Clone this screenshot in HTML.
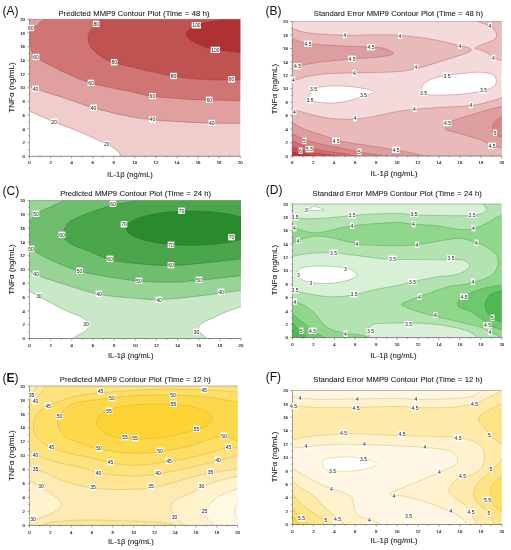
<!DOCTYPE html>
<html><head><meta charset="utf-8"><title>MMP9 Contour Plots</title>
<style>html,body{margin:0;padding:0;background:#fff;width:511px;height:550px;overflow:hidden;font-family:"Liberation Sans",sans-serif;}svg{display:block;will-change:transform;}</style>
</head><body>
<svg width="511" height="550" viewBox="0 0 511 550">
<rect width="511" height="550" fill="#fff"/>
<defs>
<clipPath id="clipA"><rect x="29.5" y="19.3" width="210.7" height="137.0"/></clipPath>
<clipPath id="clipB"><rect x="292.3" y="21.6" width="209.5" height="134.4"/></clipPath>
<clipPath id="clipC"><rect x="29.5" y="200.5" width="211.5" height="138.0"/></clipPath>
<clipPath id="clipD"><rect x="292.5" y="204.0" width="209.3" height="133.6"/></clipPath>
<clipPath id="clipE"><rect x="29.5" y="386.0" width="208.1" height="139.4"/></clipPath>
<clipPath id="clipF"><rect x="292.5" y="390.5" width="209.3" height="134.0"/></clipPath>
</defs>
<g clip-path="url(#clipA)">
<rect x="29.5" y="19.3" width="210.7" height="137.0" fill="#ffffff"/>
<path d="M29.5 111.3 C33.6 113.1 46.0 118.6 54.0 121.9 C62.0 125.2 69.0 127.4 77.8 131.1 C86.6 134.8 100.2 141.0 106.8 144.3 C113.4 147.6 114.8 148.8 117.3 150.9 C119.8 153.0 120.8 156.0 121.5 157.0 L250.0 157.0 L250.0 10.0 L20.0 10.0 L20.0 111.3 Z" fill="#eecdcb"/>
<path d="M29.5 85.7 C30.5 86.2 29.8 86.8 35.6 88.9 C41.5 91.0 54.9 94.9 64.6 98.1 C74.3 101.3 82.7 104.8 93.6 107.9 C104.5 111.0 120.2 114.6 130.0 116.6 C139.8 118.6 143.6 118.8 152.4 119.7 C161.2 120.6 172.9 121.3 182.8 121.9 C192.7 122.5 202.1 123.0 211.8 123.2 C221.5 123.4 236.1 123.3 241.0 123.3 L250.0 123.3 L250.0 10.0 L20.0 10.0 L20.0 85.7 Z" fill="#e0a0a0"/>
<path d="M47.0 18.5 C46.0 19.0 42.8 20.3 41.1 21.5 C39.4 22.7 38.4 24.5 36.8 25.8 C35.2 27.1 32.6 27.5 31.5 29.5 C30.4 31.5 29.9 34.5 29.9 38.0 C29.9 41.5 30.5 47.3 31.5 50.5 C32.5 53.7 33.6 55.0 35.8 57.0 C37.9 59.0 41.2 60.6 44.4 62.4 C47.6 64.2 51.7 66.0 55.1 67.7 C58.5 69.4 58.6 70.0 64.6 72.5 C70.6 75.0 80.1 79.8 91.0 83.0 C101.9 86.2 119.8 89.3 130.0 91.5 C140.2 93.7 143.6 95.1 152.4 96.3 C161.2 97.5 173.3 98.3 182.8 98.9 C192.3 99.5 199.5 99.7 209.2 100.0 C218.9 100.3 235.7 100.7 241.0 100.8 L250.0 100.8 L250.0 10.0 Z" fill="#d07573"/>
<path d="M100.5 18.5 C99.8 19.4 98.0 21.9 96.2 24.2 C94.4 26.4 90.8 29.4 89.5 32.0 C88.2 34.6 87.8 37.1 88.3 40.0 C88.8 42.9 89.6 46.2 92.3 49.3 C95.0 52.4 100.5 56.3 104.2 58.5 C107.9 60.7 109.1 61.0 114.2 62.5 C119.3 64.0 125.1 65.5 135.0 67.8 C144.9 70.1 162.0 74.2 173.5 76.2 C185.0 78.2 194.2 79.0 203.9 79.6 C213.6 80.2 225.4 79.8 231.6 79.8 C237.8 79.8 239.4 79.8 241.0 79.8 L250.0 79.8 L250.0 10.0 Z" fill="#be5352"/>
<path d="M228.0 18.5 C225.3 19.0 217.2 20.4 212.0 21.5 C206.8 22.6 200.5 23.8 196.5 25.3 C192.5 26.8 189.7 29.1 188.0 30.5 C186.3 31.9 186.2 32.5 186.5 34.0 C186.8 35.5 187.8 37.7 190.0 39.5 C192.2 41.3 195.9 43.4 200.0 45.0 C204.1 46.6 207.6 48.0 214.4 49.3 C221.2 50.6 236.6 52.1 241.0 52.7 L250.0 52.7 L250.0 10.0 Z" fill="#af3131"/>
<path d="M29.5 111.3 C33.6 113.1 46.0 118.6 54.0 121.9 C62.0 125.2 69.0 127.4 77.8 131.1 C86.6 134.8 100.2 141.0 106.8 144.3 C113.4 147.6 114.8 148.8 117.3 150.9 C119.8 153.0 120.8 156.0 121.5 157.0" fill="none" stroke="#8e1e22" stroke-opacity="0.55" stroke-width="0.55"/>
<path d="M29.5 85.7 C30.5 86.2 29.8 86.8 35.6 88.9 C41.5 91.0 54.9 94.9 64.6 98.1 C74.3 101.3 82.7 104.8 93.6 107.9 C104.5 111.0 120.2 114.6 130.0 116.6 C139.8 118.6 143.6 118.8 152.4 119.7 C161.2 120.6 172.9 121.3 182.8 121.9 C192.7 122.5 202.1 123.0 211.8 123.2 C221.5 123.4 236.1 123.3 241.0 123.3" fill="none" stroke="#8e1e22" stroke-opacity="0.55" stroke-width="0.55"/>
<path d="M47.0 18.5 C46.0 19.0 42.8 20.3 41.1 21.5 C39.4 22.7 38.4 24.5 36.8 25.8 C35.2 27.1 32.6 27.5 31.5 29.5 C30.4 31.5 29.9 34.5 29.9 38.0 C29.9 41.5 30.5 47.3 31.5 50.5 C32.5 53.7 33.6 55.0 35.8 57.0 C37.9 59.0 41.2 60.6 44.4 62.4 C47.6 64.2 51.7 66.0 55.1 67.7 C58.5 69.4 58.6 70.0 64.6 72.5 C70.6 75.0 80.1 79.8 91.0 83.0 C101.9 86.2 119.8 89.3 130.0 91.5 C140.2 93.7 143.6 95.1 152.4 96.3 C161.2 97.5 173.3 98.3 182.8 98.9 C192.3 99.5 199.5 99.7 209.2 100.0 C218.9 100.3 235.7 100.7 241.0 100.8" fill="none" stroke="#8e1e22" stroke-opacity="0.55" stroke-width="0.55"/>
<path d="M100.5 18.5 C99.8 19.4 98.0 21.9 96.2 24.2 C94.4 26.4 90.8 29.4 89.5 32.0 C88.2 34.6 87.8 37.1 88.3 40.0 C88.8 42.9 89.6 46.2 92.3 49.3 C95.0 52.4 100.5 56.3 104.2 58.5 C107.9 60.7 109.1 61.0 114.2 62.5 C119.3 64.0 125.1 65.5 135.0 67.8 C144.9 70.1 162.0 74.2 173.5 76.2 C185.0 78.2 194.2 79.0 203.9 79.6 C213.6 80.2 225.4 79.8 231.6 79.8 C237.8 79.8 239.4 79.8 241.0 79.8" fill="none" stroke="#8e1e22" stroke-opacity="0.55" stroke-width="0.55"/>
<path d="M228.0 18.5 C225.3 19.0 217.2 20.4 212.0 21.5 C206.8 22.6 200.5 23.8 196.5 25.3 C192.5 26.8 189.7 29.1 188.0 30.5 C186.3 31.9 186.2 32.5 186.5 34.0 C186.8 35.5 187.8 37.7 190.0 39.5 C192.2 41.3 195.9 43.4 200.0 45.0 C204.1 46.6 207.6 48.0 214.4 49.3 C221.2 50.6 236.6 52.1 241.0 52.7" fill="none" stroke="#8e1e22" stroke-opacity="0.55" stroke-width="0.55"/>
</g>
<line x1="29.5" y1="19.3" x2="240.2" y2="19.3" stroke="#8a8a8a" stroke-width="0.6"/>
<line x1="29.5" y1="19.0" x2="29.5" y2="156.7" stroke="#666" stroke-width="0.6"/>
<line x1="29.1" y1="156.3" x2="240.5" y2="156.3" stroke="#666" stroke-width="0.75"/>
<line x1="29.5" y1="156.3" x2="29.5" y2="158.5" stroke="#555" stroke-width="0.5"/>
<line x1="29.5" y1="156.3" x2="27.3" y2="156.3" stroke="#555" stroke-width="0.5"/>
<text x="29.5" y="164.4" font-size="4.3" text-anchor="middle" fill="#1a1a1a" stroke="#1a1a1a" stroke-width="0.12" font-family="Liberation Sans, sans-serif">0</text>
<text x="25.0" y="157.9" font-size="4.3" text-anchor="end" fill="#1a1a1a" stroke="#1a1a1a" stroke-width="0.12" font-family="Liberation Sans, sans-serif">0</text>
<line x1="40.0" y1="156.3" x2="40.0" y2="157.6" stroke="#555" stroke-width="0.5"/>
<line x1="29.5" y1="149.5" x2="28.2" y2="149.5" stroke="#555" stroke-width="0.5"/>
<line x1="50.6" y1="156.3" x2="50.6" y2="158.5" stroke="#555" stroke-width="0.5"/>
<line x1="29.5" y1="142.6" x2="27.3" y2="142.6" stroke="#555" stroke-width="0.5"/>
<text x="50.6" y="164.4" font-size="4.3" text-anchor="middle" fill="#1a1a1a" stroke="#1a1a1a" stroke-width="0.12" font-family="Liberation Sans, sans-serif">2</text>
<text x="25.0" y="144.2" font-size="4.3" text-anchor="end" fill="#1a1a1a" stroke="#1a1a1a" stroke-width="0.12" font-family="Liberation Sans, sans-serif">2</text>
<line x1="61.1" y1="156.3" x2="61.1" y2="157.6" stroke="#555" stroke-width="0.5"/>
<line x1="29.5" y1="135.8" x2="28.2" y2="135.8" stroke="#555" stroke-width="0.5"/>
<line x1="71.6" y1="156.3" x2="71.6" y2="158.5" stroke="#555" stroke-width="0.5"/>
<line x1="29.5" y1="128.9" x2="27.3" y2="128.9" stroke="#555" stroke-width="0.5"/>
<text x="71.6" y="164.4" font-size="4.3" text-anchor="middle" fill="#1a1a1a" stroke="#1a1a1a" stroke-width="0.12" font-family="Liberation Sans, sans-serif">4</text>
<text x="25.0" y="130.5" font-size="4.3" text-anchor="end" fill="#1a1a1a" stroke="#1a1a1a" stroke-width="0.12" font-family="Liberation Sans, sans-serif">4</text>
<line x1="82.2" y1="156.3" x2="82.2" y2="157.6" stroke="#555" stroke-width="0.5"/>
<line x1="29.5" y1="122.1" x2="28.2" y2="122.1" stroke="#555" stroke-width="0.5"/>
<line x1="92.7" y1="156.3" x2="92.7" y2="158.5" stroke="#555" stroke-width="0.5"/>
<line x1="29.5" y1="115.2" x2="27.3" y2="115.2" stroke="#555" stroke-width="0.5"/>
<text x="92.7" y="164.4" font-size="4.3" text-anchor="middle" fill="#1a1a1a" stroke="#1a1a1a" stroke-width="0.12" font-family="Liberation Sans, sans-serif">6</text>
<text x="25.0" y="116.8" font-size="4.3" text-anchor="end" fill="#1a1a1a" stroke="#1a1a1a" stroke-width="0.12" font-family="Liberation Sans, sans-serif">6</text>
<line x1="103.2" y1="156.3" x2="103.2" y2="157.6" stroke="#555" stroke-width="0.5"/>
<line x1="29.5" y1="108.4" x2="28.2" y2="108.4" stroke="#555" stroke-width="0.5"/>
<line x1="113.8" y1="156.3" x2="113.8" y2="158.5" stroke="#555" stroke-width="0.5"/>
<line x1="29.5" y1="101.5" x2="27.3" y2="101.5" stroke="#555" stroke-width="0.5"/>
<text x="113.8" y="164.4" font-size="4.3" text-anchor="middle" fill="#1a1a1a" stroke="#1a1a1a" stroke-width="0.12" font-family="Liberation Sans, sans-serif">8</text>
<text x="25.0" y="103.1" font-size="4.3" text-anchor="end" fill="#1a1a1a" stroke="#1a1a1a" stroke-width="0.12" font-family="Liberation Sans, sans-serif">8</text>
<line x1="124.3" y1="156.3" x2="124.3" y2="157.6" stroke="#555" stroke-width="0.5"/>
<line x1="29.5" y1="94.7" x2="28.2" y2="94.7" stroke="#555" stroke-width="0.5"/>
<line x1="134.8" y1="156.3" x2="134.8" y2="158.5" stroke="#555" stroke-width="0.5"/>
<line x1="29.5" y1="87.8" x2="27.3" y2="87.8" stroke="#555" stroke-width="0.5"/>
<text x="134.8" y="164.4" font-size="4.3" text-anchor="middle" fill="#1a1a1a" stroke="#1a1a1a" stroke-width="0.12" font-family="Liberation Sans, sans-serif">10</text>
<text x="25.0" y="89.4" font-size="4.3" text-anchor="end" fill="#1a1a1a" stroke="#1a1a1a" stroke-width="0.12" font-family="Liberation Sans, sans-serif">10</text>
<line x1="145.4" y1="156.3" x2="145.4" y2="157.6" stroke="#555" stroke-width="0.5"/>
<line x1="29.5" y1="81.0" x2="28.2" y2="81.0" stroke="#555" stroke-width="0.5"/>
<line x1="155.9" y1="156.3" x2="155.9" y2="158.5" stroke="#555" stroke-width="0.5"/>
<line x1="29.5" y1="74.1" x2="27.3" y2="74.1" stroke="#555" stroke-width="0.5"/>
<text x="155.9" y="164.4" font-size="4.3" text-anchor="middle" fill="#1a1a1a" stroke="#1a1a1a" stroke-width="0.12" font-family="Liberation Sans, sans-serif">12</text>
<text x="25.0" y="75.7" font-size="4.3" text-anchor="end" fill="#1a1a1a" stroke="#1a1a1a" stroke-width="0.12" font-family="Liberation Sans, sans-serif">12</text>
<line x1="166.5" y1="156.3" x2="166.5" y2="157.6" stroke="#555" stroke-width="0.5"/>
<line x1="29.5" y1="67.3" x2="28.2" y2="67.3" stroke="#555" stroke-width="0.5"/>
<line x1="177.0" y1="156.3" x2="177.0" y2="158.5" stroke="#555" stroke-width="0.5"/>
<line x1="29.5" y1="60.4" x2="27.3" y2="60.4" stroke="#555" stroke-width="0.5"/>
<text x="177.0" y="164.4" font-size="4.3" text-anchor="middle" fill="#1a1a1a" stroke="#1a1a1a" stroke-width="0.12" font-family="Liberation Sans, sans-serif">14</text>
<text x="25.0" y="62.0" font-size="4.3" text-anchor="end" fill="#1a1a1a" stroke="#1a1a1a" stroke-width="0.12" font-family="Liberation Sans, sans-serif">14</text>
<line x1="187.5" y1="156.3" x2="187.5" y2="157.6" stroke="#555" stroke-width="0.5"/>
<line x1="29.5" y1="53.6" x2="28.2" y2="53.6" stroke="#555" stroke-width="0.5"/>
<line x1="198.1" y1="156.3" x2="198.1" y2="158.5" stroke="#555" stroke-width="0.5"/>
<line x1="29.5" y1="46.7" x2="27.3" y2="46.7" stroke="#555" stroke-width="0.5"/>
<text x="198.1" y="164.4" font-size="4.3" text-anchor="middle" fill="#1a1a1a" stroke="#1a1a1a" stroke-width="0.12" font-family="Liberation Sans, sans-serif">16</text>
<text x="25.0" y="48.3" font-size="4.3" text-anchor="end" fill="#1a1a1a" stroke="#1a1a1a" stroke-width="0.12" font-family="Liberation Sans, sans-serif">16</text>
<line x1="208.6" y1="156.3" x2="208.6" y2="157.6" stroke="#555" stroke-width="0.5"/>
<line x1="29.5" y1="39.9" x2="28.2" y2="39.9" stroke="#555" stroke-width="0.5"/>
<line x1="219.1" y1="156.3" x2="219.1" y2="158.5" stroke="#555" stroke-width="0.5"/>
<line x1="29.5" y1="33.0" x2="27.3" y2="33.0" stroke="#555" stroke-width="0.5"/>
<text x="219.1" y="164.4" font-size="4.3" text-anchor="middle" fill="#1a1a1a" stroke="#1a1a1a" stroke-width="0.12" font-family="Liberation Sans, sans-serif">18</text>
<text x="25.0" y="34.6" font-size="4.3" text-anchor="end" fill="#1a1a1a" stroke="#1a1a1a" stroke-width="0.12" font-family="Liberation Sans, sans-serif">18</text>
<line x1="229.7" y1="156.3" x2="229.7" y2="157.6" stroke="#555" stroke-width="0.5"/>
<line x1="29.5" y1="26.2" x2="28.2" y2="26.2" stroke="#555" stroke-width="0.5"/>
<line x1="240.2" y1="156.3" x2="240.2" y2="158.5" stroke="#555" stroke-width="0.5"/>
<line x1="29.5" y1="19.3" x2="27.3" y2="19.3" stroke="#555" stroke-width="0.5"/>
<text x="240.2" y="164.4" font-size="4.3" text-anchor="middle" fill="#1a1a1a" stroke="#1a1a1a" stroke-width="0.12" font-family="Liberation Sans, sans-serif">20</text>
<text x="25.0" y="20.9" font-size="4.3" text-anchor="end" fill="#1a1a1a" stroke="#1a1a1a" stroke-width="0.12" font-family="Liberation Sans, sans-serif">20</text>
<rect x="27.5" y="24.8" width="6.6" height="6.3" fill="#fff"/>
<text x="30.8" y="29.8" font-size="5" text-anchor="middle" fill="#111" font-family="Liberation Sans, sans-serif">60</text>
<rect x="92.9" y="20.8" width="6.6" height="6.3" fill="#fff"/>
<text x="96.2" y="25.8" font-size="5" text-anchor="middle" fill="#111" font-family="Liberation Sans, sans-serif">80</text>
<rect x="32.8" y="53.8" width="6.6" height="6.3" fill="#fff"/>
<text x="36.1" y="58.8" font-size="5" text-anchor="middle" fill="#111" font-family="Liberation Sans, sans-serif">60</text>
<rect x="110.9" y="59.1" width="6.6" height="6.3" fill="#fff"/>
<text x="114.2" y="64.0" font-size="5" text-anchor="middle" fill="#111" font-family="Liberation Sans, sans-serif">80</text>
<rect x="87.7" y="79.7" width="6.6" height="6.3" fill="#fff"/>
<text x="91.0" y="84.6" font-size="5" text-anchor="middle" fill="#111" font-family="Liberation Sans, sans-serif">60</text>
<rect x="32.3" y="85.5" width="6.6" height="6.3" fill="#fff"/>
<text x="35.6" y="90.5" font-size="5" text-anchor="middle" fill="#111" font-family="Liberation Sans, sans-serif">40</text>
<rect x="90.3" y="104.5" width="6.6" height="6.3" fill="#fff"/>
<text x="93.6" y="109.5" font-size="5" text-anchor="middle" fill="#111" font-family="Liberation Sans, sans-serif">40</text>
<rect x="50.7" y="118.5" width="6.6" height="6.3" fill="#fff"/>
<text x="54.0" y="123.5" font-size="5" text-anchor="middle" fill="#111" font-family="Liberation Sans, sans-serif">20</text>
<rect x="103.5" y="140.9" width="6.6" height="6.3" fill="#fff"/>
<text x="106.8" y="145.9" font-size="5" text-anchor="middle" fill="#111" font-family="Liberation Sans, sans-serif">20</text>
<rect x="191.7" y="22.2" width="9.3" height="6.3" fill="#fff"/>
<text x="196.4" y="27.2" font-size="5" text-anchor="middle" fill="#111" font-family="Liberation Sans, sans-serif">100</text>
<rect x="210.7" y="46.7" width="9.3" height="6.3" fill="#fff"/>
<text x="215.4" y="51.6" font-size="5" text-anchor="middle" fill="#111" font-family="Liberation Sans, sans-serif">100</text>
<rect x="170.2" y="72.8" width="6.6" height="6.3" fill="#fff"/>
<text x="173.5" y="77.8" font-size="5" text-anchor="middle" fill="#111" font-family="Liberation Sans, sans-serif">80</text>
<rect x="228.3" y="76.2" width="6.6" height="6.3" fill="#fff"/>
<text x="231.6" y="81.1" font-size="5" text-anchor="middle" fill="#111" font-family="Liberation Sans, sans-serif">80</text>
<rect x="149.1" y="92.9" width="6.6" height="6.3" fill="#fff"/>
<text x="152.4" y="97.8" font-size="5" text-anchor="middle" fill="#111" font-family="Liberation Sans, sans-serif">60</text>
<rect x="205.9" y="96.6" width="6.6" height="6.3" fill="#fff"/>
<text x="209.2" y="101.5" font-size="5" text-anchor="middle" fill="#111" font-family="Liberation Sans, sans-serif">60</text>
<rect x="149.1" y="116.3" width="6.6" height="6.3" fill="#fff"/>
<text x="152.4" y="121.2" font-size="5" text-anchor="middle" fill="#111" font-family="Liberation Sans, sans-serif">40</text>
<rect x="208.5" y="119.8" width="6.6" height="6.3" fill="#fff"/>
<text x="211.8" y="124.8" font-size="5" text-anchor="middle" fill="#111" font-family="Liberation Sans, sans-serif">40</text>
<text x="58.5" y="15.8" font-size="7.66" word-spacing="0.3" fill="#1a1a1a" stroke="#1a1a1a" stroke-width="0.08" font-family="Liberation Sans, sans-serif">Predicted MMP9 Contour Plot (Time = 48 h)</text>
<text x="2.6" y="14.9" font-size="12" fill="#111" font-family="Liberation Sans, sans-serif">(A)</text>
<text x="107.1" y="177.1" font-size="7.9" fill="#1a1a1a" stroke="#1a1a1a" stroke-width="0.08" textLength="45.8" lengthAdjust="spacingAndGlyphs" font-family="Liberation Sans, sans-serif">IL-1β (ng/mL)</text>
<text x="0" y="0" font-size="8.1" fill="#1a1a1a" stroke="#1a1a1a" stroke-width="0.08" text-anchor="middle" transform="translate(13.8 87.5) rotate(-90)" font-family="Liberation Sans, sans-serif">TNFα (ng/mL)</text>
<g clip-path="url(#clipB)">
<rect x="292.3" y="21.6" width="209.5" height="134.4" fill="#f4dada"/>
<path d="M292.3 28.8 C295.2 29.5 300.7 31.9 309.5 33.0 C318.3 34.1 334.2 34.9 345.0 35.2 C355.8 35.5 364.9 34.8 374.0 34.8 C383.1 34.8 390.4 34.6 399.3 35.2 C408.2 35.8 417.2 36.8 427.3 38.5 C437.4 40.2 452.4 43.8 459.6 45.5 C466.8 47.2 469.1 47.6 470.5 48.8 C471.9 49.9 471.8 50.7 468.2 52.4 C464.6 54.1 457.4 56.2 448.8 58.9 C440.2 61.6 425.5 66.4 416.5 68.6 C407.5 70.8 405.3 71.1 395.0 71.8 C384.7 72.5 365.4 72.6 354.7 72.9 C344.0 73.2 338.5 73.0 331.0 73.5 C323.5 74.0 315.9 74.8 309.5 76.1 C303.1 77.3 295.2 80.2 292.3 81.0 L285.0 81.0 L285.0 28.8 Z" fill="#e8baba"/>
<path d="M476.8 18.0 C477.0 18.6 476.0 20.4 478.0 21.6 C480.0 22.9 485.8 23.9 488.6 25.5 C491.5 27.1 493.8 28.9 495.1 30.9 C496.4 32.9 497.1 35.6 496.2 37.4 C495.3 39.2 492.2 40.5 489.7 41.7 C487.2 43.0 483.6 43.8 481.1 44.9 C478.7 46.0 475.0 47.3 475.0 48.2 C475.0 49.1 478.7 49.1 481.1 50.2 C483.6 51.3 487.6 53.3 489.7 54.6 C491.8 55.9 491.8 56.7 494.0 57.8 C496.2 58.9 501.5 60.5 503.0 61.0 L510.0 61.0 L510.0 10.0 L476.8 10.0 Z" fill="#e8baba"/>
<path d="M292.3 108.7 C295.2 109.6 303.1 112.5 309.5 114.1 C315.9 115.7 323.5 117.6 331.0 118.4 C338.5 119.2 347.5 119.4 354.7 119.1 C361.9 118.8 367.4 117.5 374.1 116.3 C380.8 115.1 388.3 113.1 395.0 111.9 C401.7 110.8 407.2 110.1 414.4 109.4 C421.6 108.7 428.5 108.2 438.0 107.6 C447.5 106.9 462.7 106.5 471.4 105.5 C480.1 104.5 484.7 102.9 490.0 101.5 C495.3 100.1 500.8 97.8 503.0 97.0 L510.0 97.0 L510.0 165.0 L285.0 165.0 L285.0 108.7 Z" fill="#e8baba"/>
<path d="M292.3 38.5 C294.8 39.3 299.1 42.1 307.4 43.4 C315.6 44.6 331.2 45.4 341.8 46.0 C352.4 46.6 364.1 46.6 370.9 47.0 C377.7 47.4 378.9 47.1 382.7 48.1 C386.5 49.1 393.9 51.8 393.5 53.3 C393.1 54.8 387.4 55.9 380.6 56.8 C373.8 57.7 362.7 58.0 352.6 58.9 C342.6 59.8 329.6 60.9 320.3 62.1 C311.0 63.4 301.3 65.3 296.6 66.4 C291.9 67.5 293.0 68.2 292.3 68.6 L285.0 68.6 L285.0 38.5 Z" fill="#dc9e9e"/>
<path d="M292.3 122.3 C293.5 123.1 296.5 125.4 299.7 127.0 C302.9 128.6 307.6 130.3 311.5 131.7 C315.4 133.1 319.3 134.0 323.2 135.3 C327.1 136.6 330.9 138.2 335.0 139.4 C339.1 140.6 341.5 141.3 348.0 142.5 C354.5 143.7 366.3 145.2 374.1 146.4 C381.9 147.6 388.6 148.7 394.6 149.7 C400.6 150.7 404.4 151.3 410.0 152.5 C415.6 153.7 425.0 156.2 428.0 157.0 L285.0 165.0 L285.0 122.3 Z" fill="#dc9e9e"/>
<path d="M503.0 106.0 C502.6 106.1 504.1 105.6 500.5 106.6 C496.9 107.6 487.9 109.9 481.1 111.9 C474.3 113.9 465.2 116.5 459.6 118.4 C454.0 120.3 450.0 121.6 447.7 123.4 C445.4 125.2 443.6 127.5 445.6 129.2 C447.6 130.9 453.7 131.7 459.6 133.5 C465.5 135.3 475.7 138.0 481.1 140.0 C486.5 142.0 488.7 144.1 491.9 145.3 C495.1 146.6 498.6 147.1 500.5 147.5 C502.4 147.9 502.6 147.9 503.0 148.0 L510.0 148.0 L510.0 106.0 Z" fill="#dc9e9e"/>
<path d="M292.3 133.5 C293.5 134.2 296.5 136.2 299.7 137.6 C302.9 139.0 307.6 140.5 311.5 141.7 C315.4 142.9 319.3 143.7 323.2 144.6 C327.1 145.5 330.9 146.2 335.0 147.0 C339.1 147.8 344.0 148.4 348.0 149.3 C352.0 150.2 353.9 151.2 359.0 152.2 C364.1 153.1 373.9 154.2 378.4 155.0 C382.9 155.8 384.7 156.7 386.0 157.0 L285.0 165.0 L285.0 133.5 Z" fill="#d98688"/>
<path d="M503.0 116.5 C501.8 117.2 497.7 118.9 496.0 120.5 C494.3 122.1 493.5 124.2 493.0 126.0 C492.5 127.8 492.5 129.8 493.0 131.3 C493.5 132.8 494.3 134.0 496.0 135.0 C497.7 136.0 501.8 137.1 503.0 137.5 L510.0 137.5 L510.0 116.5 Z" fill="#d98688"/>
<path d="M292.3 140.5 C293.5 141.1 296.5 142.7 299.7 144.0 C302.9 145.3 307.6 147.1 311.5 148.2 C315.4 149.3 319.3 149.8 323.2 150.5 C327.1 151.2 330.9 151.7 335.0 152.3 C339.1 152.9 344.5 153.4 348.0 154.2 C351.5 155.0 354.7 156.5 356.0 157.0 L285.0 165.0 L285.0 140.5 Z" fill="#d66b6e"/>
<path d="M292.3 146.4 C293.5 146.9 296.5 148.3 299.7 149.3 C302.9 150.3 307.6 151.5 311.5 152.3 C315.4 153.1 319.3 153.5 323.2 154.0 C327.1 154.5 332.0 155.0 335.0 155.5 C338.0 156.0 340.0 156.8 341.0 157.0 L285.0 165.0 L285.0 146.4 Z" fill="#d24b50"/>
<path d="M292.3 151.7 C293.5 152.0 296.5 152.9 299.7 153.5 C302.9 154.1 308.3 154.6 311.5 155.2 C314.7 155.8 317.8 156.7 319.0 157.0 L285.0 165.0 L285.0 151.7 Z" fill="#cc2c33"/>
<path d="M309.4 94.9 C309.5 93.5 310.2 92.0 311.0 91.0 C311.8 90.0 312.0 89.3 314.1 88.6 C316.2 87.9 319.1 87.0 323.5 86.6 C327.9 86.1 334.7 85.7 340.7 85.9 C346.7 86.1 353.9 86.8 359.5 87.8 C365.1 88.8 373.8 90.3 374.3 91.7 C374.8 93.1 367.2 94.8 362.6 96.4 C358.1 98.0 352.2 100.0 347.0 101.1 C341.8 102.2 336.5 102.9 331.3 103.0 C326.1 103.1 319.1 102.5 315.6 101.9 C312.1 101.3 311.2 100.8 310.2 99.6 C309.2 98.4 309.3 96.3 309.4 94.9 Z" fill="#ffffff"/>
<path d="M422.1 86.4 C422.8 85.1 424.1 83.3 426.0 82.0 C427.9 80.7 430.3 79.4 433.7 78.3 C437.1 77.2 441.4 76.1 446.6 75.3 C451.8 74.5 459.4 73.7 465.0 73.2 C470.6 72.7 475.6 72.0 480.2 72.2 C484.8 72.4 489.8 73.1 492.5 74.5 C495.2 75.9 496.2 78.4 496.3 80.5 C496.4 82.6 495.7 85.2 493.0 87.0 C490.3 88.8 485.4 90.2 480.2 91.4 C475.0 92.6 467.6 93.4 462.0 94.0 C456.4 94.6 451.9 94.7 446.6 94.9 C441.3 95.1 433.9 95.1 430.0 95.0 C426.1 94.9 424.4 95.0 423.0 94.2 C421.6 93.4 421.9 91.3 421.8 90.0 C421.7 88.7 421.4 87.7 422.1 86.4 Z" fill="#ffffff"/>
<path d="M292.3 28.8 C295.2 29.5 300.7 31.9 309.5 33.0 C318.3 34.1 334.2 34.9 345.0 35.2 C355.8 35.5 364.9 34.8 374.0 34.8 C383.1 34.8 390.4 34.6 399.3 35.2 C408.2 35.8 417.2 36.8 427.3 38.5 C437.4 40.2 452.4 43.8 459.6 45.5 C466.8 47.2 469.1 47.6 470.5 48.8 C471.9 49.9 471.8 50.7 468.2 52.4 C464.6 54.1 457.4 56.2 448.8 58.9 C440.2 61.6 425.5 66.4 416.5 68.6 C407.5 70.8 405.3 71.1 395.0 71.8 C384.7 72.5 365.4 72.6 354.7 72.9 C344.0 73.2 338.5 73.0 331.0 73.5 C323.5 74.0 315.9 74.8 309.5 76.1 C303.1 77.3 295.2 80.2 292.3 81.0" fill="none" stroke="#9a3038" stroke-opacity="0.55" stroke-width="0.55"/>
<path d="M476.8 18.0 C477.0 18.6 476.0 20.4 478.0 21.6 C480.0 22.9 485.8 23.9 488.6 25.5 C491.5 27.1 493.8 28.9 495.1 30.9 C496.4 32.9 497.1 35.6 496.2 37.4 C495.3 39.2 492.2 40.5 489.7 41.7 C487.2 43.0 483.6 43.8 481.1 44.9 C478.7 46.0 475.0 47.3 475.0 48.2 C475.0 49.1 478.7 49.1 481.1 50.2 C483.6 51.3 487.6 53.3 489.7 54.6 C491.8 55.9 491.8 56.7 494.0 57.8 C496.2 58.9 501.5 60.5 503.0 61.0" fill="none" stroke="#9a3038" stroke-opacity="0.55" stroke-width="0.55"/>
<path d="M292.3 108.7 C295.2 109.6 303.1 112.5 309.5 114.1 C315.9 115.7 323.5 117.6 331.0 118.4 C338.5 119.2 347.5 119.4 354.7 119.1 C361.9 118.8 367.4 117.5 374.1 116.3 C380.8 115.1 388.3 113.1 395.0 111.9 C401.7 110.8 407.2 110.1 414.4 109.4 C421.6 108.7 428.5 108.2 438.0 107.6 C447.5 106.9 462.7 106.5 471.4 105.5 C480.1 104.5 484.7 102.9 490.0 101.5 C495.3 100.1 500.8 97.8 503.0 97.0" fill="none" stroke="#9a3038" stroke-opacity="0.55" stroke-width="0.55"/>
<path d="M292.3 38.5 C294.8 39.3 299.1 42.1 307.4 43.4 C315.6 44.6 331.2 45.4 341.8 46.0 C352.4 46.6 364.1 46.6 370.9 47.0 C377.7 47.4 378.9 47.1 382.7 48.1 C386.5 49.1 393.9 51.8 393.5 53.3 C393.1 54.8 387.4 55.9 380.6 56.8 C373.8 57.7 362.7 58.0 352.6 58.9 C342.6 59.8 329.6 60.9 320.3 62.1 C311.0 63.4 301.3 65.3 296.6 66.4 C291.9 67.5 293.0 68.2 292.3 68.6" fill="none" stroke="#9a3038" stroke-opacity="0.55" stroke-width="0.55"/>
<path d="M292.3 122.3 C293.5 123.1 296.5 125.4 299.7 127.0 C302.9 128.6 307.6 130.3 311.5 131.7 C315.4 133.1 319.3 134.0 323.2 135.3 C327.1 136.6 330.9 138.2 335.0 139.4 C339.1 140.6 341.5 141.3 348.0 142.5 C354.5 143.7 366.3 145.2 374.1 146.4 C381.9 147.6 388.6 148.7 394.6 149.7 C400.6 150.7 404.4 151.3 410.0 152.5 C415.6 153.7 425.0 156.2 428.0 157.0" fill="none" stroke="#9a3038" stroke-opacity="0.55" stroke-width="0.55"/>
<path d="M503.0 106.0 C502.6 106.1 504.1 105.6 500.5 106.6 C496.9 107.6 487.9 109.9 481.1 111.9 C474.3 113.9 465.2 116.5 459.6 118.4 C454.0 120.3 450.0 121.6 447.7 123.4 C445.4 125.2 443.6 127.5 445.6 129.2 C447.6 130.9 453.7 131.7 459.6 133.5 C465.5 135.3 475.7 138.0 481.1 140.0 C486.5 142.0 488.7 144.1 491.9 145.3 C495.1 146.6 498.6 147.1 500.5 147.5 C502.4 147.9 502.6 147.9 503.0 148.0" fill="none" stroke="#9a3038" stroke-opacity="0.55" stroke-width="0.55"/>
<path d="M292.3 133.5 C293.5 134.2 296.5 136.2 299.7 137.6 C302.9 139.0 307.6 140.5 311.5 141.7 C315.4 142.9 319.3 143.7 323.2 144.6 C327.1 145.5 330.9 146.2 335.0 147.0 C339.1 147.8 344.0 148.4 348.0 149.3 C352.0 150.2 353.9 151.2 359.0 152.2 C364.1 153.1 373.9 154.2 378.4 155.0 C382.9 155.8 384.7 156.7 386.0 157.0" fill="none" stroke="#9a3038" stroke-opacity="0.55" stroke-width="0.55"/>
<path d="M503.0 116.5 C501.8 117.2 497.7 118.9 496.0 120.5 C494.3 122.1 493.5 124.2 493.0 126.0 C492.5 127.8 492.5 129.8 493.0 131.3 C493.5 132.8 494.3 134.0 496.0 135.0 C497.7 136.0 501.8 137.1 503.0 137.5" fill="none" stroke="#9a3038" stroke-opacity="0.55" stroke-width="0.55"/>
<path d="M292.3 140.5 C293.5 141.1 296.5 142.7 299.7 144.0 C302.9 145.3 307.6 147.1 311.5 148.2 C315.4 149.3 319.3 149.8 323.2 150.5 C327.1 151.2 330.9 151.7 335.0 152.3 C339.1 152.9 344.5 153.4 348.0 154.2 C351.5 155.0 354.7 156.5 356.0 157.0" fill="none" stroke="#9a3038" stroke-opacity="0.55" stroke-width="0.55"/>
<path d="M292.3 146.4 C293.5 146.9 296.5 148.3 299.7 149.3 C302.9 150.3 307.6 151.5 311.5 152.3 C315.4 153.1 319.3 153.5 323.2 154.0 C327.1 154.5 332.0 155.0 335.0 155.5 C338.0 156.0 340.0 156.8 341.0 157.0" fill="none" stroke="#9a3038" stroke-opacity="0.55" stroke-width="0.55"/>
<path d="M292.3 151.7 C293.5 152.0 296.5 152.9 299.7 153.5 C302.9 154.1 308.3 154.6 311.5 155.2 C314.7 155.8 317.8 156.7 319.0 157.0" fill="none" stroke="#9a3038" stroke-opacity="0.55" stroke-width="0.55"/>
<path d="M309.4 94.9 C309.5 93.5 310.2 92.0 311.0 91.0 C311.8 90.0 312.0 89.3 314.1 88.6 C316.2 87.9 319.1 87.0 323.5 86.6 C327.9 86.1 334.7 85.7 340.7 85.9 C346.7 86.1 353.9 86.8 359.5 87.8 C365.1 88.8 373.8 90.3 374.3 91.7 C374.8 93.1 367.2 94.8 362.6 96.4 C358.1 98.0 352.2 100.0 347.0 101.1 C341.8 102.2 336.5 102.9 331.3 103.0 C326.1 103.1 319.1 102.5 315.6 101.9 C312.1 101.3 311.2 100.8 310.2 99.6 C309.2 98.4 309.3 96.3 309.4 94.9 Z" fill="none" stroke="#9a3038" stroke-opacity="0.55" stroke-width="0.55"/>
<path d="M422.1 86.4 C422.8 85.1 424.1 83.3 426.0 82.0 C427.9 80.7 430.3 79.4 433.7 78.3 C437.1 77.2 441.4 76.1 446.6 75.3 C451.8 74.5 459.4 73.7 465.0 73.2 C470.6 72.7 475.6 72.0 480.2 72.2 C484.8 72.4 489.8 73.1 492.5 74.5 C495.2 75.9 496.2 78.4 496.3 80.5 C496.4 82.6 495.7 85.2 493.0 87.0 C490.3 88.8 485.4 90.2 480.2 91.4 C475.0 92.6 467.6 93.4 462.0 94.0 C456.4 94.6 451.9 94.7 446.6 94.9 C441.3 95.1 433.9 95.1 430.0 95.0 C426.1 94.9 424.4 95.0 423.0 94.2 C421.6 93.4 421.9 91.3 421.8 90.0 C421.7 88.7 421.4 87.7 422.1 86.4 Z" fill="none" stroke="#9a3038" stroke-opacity="0.55" stroke-width="0.55"/>
</g>
<line x1="292.3" y1="21.6" x2="501.8" y2="21.6" stroke="#8a8a8a" stroke-width="0.6"/>
<line x1="292.3" y1="21.3" x2="292.3" y2="156.4" stroke="#666" stroke-width="0.6"/>
<line x1="291.9" y1="156.0" x2="502.1" y2="156.0" stroke="#666" stroke-width="0.75"/>
<line x1="292.3" y1="156.0" x2="292.3" y2="158.2" stroke="#555" stroke-width="0.5"/>
<line x1="292.3" y1="156.0" x2="290.1" y2="156.0" stroke="#555" stroke-width="0.5"/>
<text x="292.3" y="164.1" font-size="4.3" text-anchor="middle" fill="#1a1a1a" stroke="#1a1a1a" stroke-width="0.12" font-family="Liberation Sans, sans-serif">0</text>
<text x="287.8" y="157.6" font-size="4.3" text-anchor="end" fill="#1a1a1a" stroke="#1a1a1a" stroke-width="0.12" font-family="Liberation Sans, sans-serif">0</text>
<line x1="302.8" y1="156.0" x2="302.8" y2="157.3" stroke="#555" stroke-width="0.5"/>
<line x1="292.3" y1="149.3" x2="291.0" y2="149.3" stroke="#555" stroke-width="0.5"/>
<line x1="313.2" y1="156.0" x2="313.2" y2="158.2" stroke="#555" stroke-width="0.5"/>
<line x1="292.3" y1="142.6" x2="290.1" y2="142.6" stroke="#555" stroke-width="0.5"/>
<text x="313.2" y="164.1" font-size="4.3" text-anchor="middle" fill="#1a1a1a" stroke="#1a1a1a" stroke-width="0.12" font-family="Liberation Sans, sans-serif">2</text>
<text x="287.8" y="144.2" font-size="4.3" text-anchor="end" fill="#1a1a1a" stroke="#1a1a1a" stroke-width="0.12" font-family="Liberation Sans, sans-serif">2</text>
<line x1="323.7" y1="156.0" x2="323.7" y2="157.3" stroke="#555" stroke-width="0.5"/>
<line x1="292.3" y1="135.8" x2="291.0" y2="135.8" stroke="#555" stroke-width="0.5"/>
<line x1="334.2" y1="156.0" x2="334.2" y2="158.2" stroke="#555" stroke-width="0.5"/>
<line x1="292.3" y1="129.1" x2="290.1" y2="129.1" stroke="#555" stroke-width="0.5"/>
<text x="334.2" y="164.1" font-size="4.3" text-anchor="middle" fill="#1a1a1a" stroke="#1a1a1a" stroke-width="0.12" font-family="Liberation Sans, sans-serif">4</text>
<text x="287.8" y="130.7" font-size="4.3" text-anchor="end" fill="#1a1a1a" stroke="#1a1a1a" stroke-width="0.12" font-family="Liberation Sans, sans-serif">4</text>
<line x1="344.7" y1="156.0" x2="344.7" y2="157.3" stroke="#555" stroke-width="0.5"/>
<line x1="292.3" y1="122.4" x2="291.0" y2="122.4" stroke="#555" stroke-width="0.5"/>
<line x1="355.2" y1="156.0" x2="355.2" y2="158.2" stroke="#555" stroke-width="0.5"/>
<line x1="292.3" y1="115.7" x2="290.1" y2="115.7" stroke="#555" stroke-width="0.5"/>
<text x="355.2" y="164.1" font-size="4.3" text-anchor="middle" fill="#1a1a1a" stroke="#1a1a1a" stroke-width="0.12" font-family="Liberation Sans, sans-serif">6</text>
<text x="287.8" y="117.3" font-size="4.3" text-anchor="end" fill="#1a1a1a" stroke="#1a1a1a" stroke-width="0.12" font-family="Liberation Sans, sans-serif">6</text>
<line x1="365.6" y1="156.0" x2="365.6" y2="157.3" stroke="#555" stroke-width="0.5"/>
<line x1="292.3" y1="109.0" x2="291.0" y2="109.0" stroke="#555" stroke-width="0.5"/>
<line x1="376.1" y1="156.0" x2="376.1" y2="158.2" stroke="#555" stroke-width="0.5"/>
<line x1="292.3" y1="102.2" x2="290.1" y2="102.2" stroke="#555" stroke-width="0.5"/>
<text x="376.1" y="164.1" font-size="4.3" text-anchor="middle" fill="#1a1a1a" stroke="#1a1a1a" stroke-width="0.12" font-family="Liberation Sans, sans-serif">8</text>
<text x="287.8" y="103.8" font-size="4.3" text-anchor="end" fill="#1a1a1a" stroke="#1a1a1a" stroke-width="0.12" font-family="Liberation Sans, sans-serif">8</text>
<line x1="386.6" y1="156.0" x2="386.6" y2="157.3" stroke="#555" stroke-width="0.5"/>
<line x1="292.3" y1="95.5" x2="291.0" y2="95.5" stroke="#555" stroke-width="0.5"/>
<line x1="397.1" y1="156.0" x2="397.1" y2="158.2" stroke="#555" stroke-width="0.5"/>
<line x1="292.3" y1="88.8" x2="290.1" y2="88.8" stroke="#555" stroke-width="0.5"/>
<text x="397.1" y="164.1" font-size="4.3" text-anchor="middle" fill="#1a1a1a" stroke="#1a1a1a" stroke-width="0.12" font-family="Liberation Sans, sans-serif">10</text>
<text x="287.8" y="90.4" font-size="4.3" text-anchor="end" fill="#1a1a1a" stroke="#1a1a1a" stroke-width="0.12" font-family="Liberation Sans, sans-serif">10</text>
<line x1="407.5" y1="156.0" x2="407.5" y2="157.3" stroke="#555" stroke-width="0.5"/>
<line x1="292.3" y1="82.1" x2="291.0" y2="82.1" stroke="#555" stroke-width="0.5"/>
<line x1="418.0" y1="156.0" x2="418.0" y2="158.2" stroke="#555" stroke-width="0.5"/>
<line x1="292.3" y1="75.4" x2="290.1" y2="75.4" stroke="#555" stroke-width="0.5"/>
<text x="418.0" y="164.1" font-size="4.3" text-anchor="middle" fill="#1a1a1a" stroke="#1a1a1a" stroke-width="0.12" font-family="Liberation Sans, sans-serif">12</text>
<text x="287.8" y="77.0" font-size="4.3" text-anchor="end" fill="#1a1a1a" stroke="#1a1a1a" stroke-width="0.12" font-family="Liberation Sans, sans-serif">12</text>
<line x1="428.5" y1="156.0" x2="428.5" y2="157.3" stroke="#555" stroke-width="0.5"/>
<line x1="292.3" y1="68.6" x2="291.0" y2="68.6" stroke="#555" stroke-width="0.5"/>
<line x1="439.0" y1="156.0" x2="439.0" y2="158.2" stroke="#555" stroke-width="0.5"/>
<line x1="292.3" y1="61.9" x2="290.1" y2="61.9" stroke="#555" stroke-width="0.5"/>
<text x="439.0" y="164.1" font-size="4.3" text-anchor="middle" fill="#1a1a1a" stroke="#1a1a1a" stroke-width="0.12" font-family="Liberation Sans, sans-serif">14</text>
<text x="287.8" y="63.5" font-size="4.3" text-anchor="end" fill="#1a1a1a" stroke="#1a1a1a" stroke-width="0.12" font-family="Liberation Sans, sans-serif">14</text>
<line x1="449.4" y1="156.0" x2="449.4" y2="157.3" stroke="#555" stroke-width="0.5"/>
<line x1="292.3" y1="55.2" x2="291.0" y2="55.2" stroke="#555" stroke-width="0.5"/>
<line x1="459.9" y1="156.0" x2="459.9" y2="158.2" stroke="#555" stroke-width="0.5"/>
<line x1="292.3" y1="48.5" x2="290.1" y2="48.5" stroke="#555" stroke-width="0.5"/>
<text x="459.9" y="164.1" font-size="4.3" text-anchor="middle" fill="#1a1a1a" stroke="#1a1a1a" stroke-width="0.12" font-family="Liberation Sans, sans-serif">16</text>
<text x="287.8" y="50.1" font-size="4.3" text-anchor="end" fill="#1a1a1a" stroke="#1a1a1a" stroke-width="0.12" font-family="Liberation Sans, sans-serif">16</text>
<line x1="470.4" y1="156.0" x2="470.4" y2="157.3" stroke="#555" stroke-width="0.5"/>
<line x1="292.3" y1="41.8" x2="291.0" y2="41.8" stroke="#555" stroke-width="0.5"/>
<line x1="480.9" y1="156.0" x2="480.9" y2="158.2" stroke="#555" stroke-width="0.5"/>
<line x1="292.3" y1="35.0" x2="290.1" y2="35.0" stroke="#555" stroke-width="0.5"/>
<text x="480.9" y="164.1" font-size="4.3" text-anchor="middle" fill="#1a1a1a" stroke="#1a1a1a" stroke-width="0.12" font-family="Liberation Sans, sans-serif">18</text>
<text x="287.8" y="36.6" font-size="4.3" text-anchor="end" fill="#1a1a1a" stroke="#1a1a1a" stroke-width="0.12" font-family="Liberation Sans, sans-serif">18</text>
<line x1="491.3" y1="156.0" x2="491.3" y2="157.3" stroke="#555" stroke-width="0.5"/>
<line x1="292.3" y1="28.3" x2="291.0" y2="28.3" stroke="#555" stroke-width="0.5"/>
<line x1="501.8" y1="156.0" x2="501.8" y2="158.2" stroke="#555" stroke-width="0.5"/>
<line x1="292.3" y1="21.6" x2="290.1" y2="21.6" stroke="#555" stroke-width="0.5"/>
<text x="501.8" y="164.1" font-size="4.3" text-anchor="middle" fill="#1a1a1a" stroke="#1a1a1a" stroke-width="0.12" font-family="Liberation Sans, sans-serif">20</text>
<text x="287.8" y="23.2" font-size="4.3" text-anchor="end" fill="#1a1a1a" stroke="#1a1a1a" stroke-width="0.12" font-family="Liberation Sans, sans-serif">20</text>
<rect x="343.1" y="32.1" width="3.8" height="6.3" fill="#fff"/>
<text x="345.0" y="37.0" font-size="5" text-anchor="middle" fill="#111" font-family="Liberation Sans, sans-serif">4</text>
<rect x="398.1" y="32.6" width="3.8" height="6.3" fill="#fff"/>
<text x="400.0" y="37.5" font-size="5" text-anchor="middle" fill="#111" font-family="Liberation Sans, sans-serif">4</text>
<rect x="488.1" y="22.6" width="3.8" height="6.3" fill="#fff"/>
<text x="490.0" y="27.6" font-size="5" text-anchor="middle" fill="#111" font-family="Liberation Sans, sans-serif">4</text>
<rect x="304.0" y="40.6" width="7.9" height="6.3" fill="#fff"/>
<text x="308.0" y="45.5" font-size="5" text-anchor="middle" fill="#111" font-family="Liberation Sans, sans-serif">4.5</text>
<rect x="367.0" y="44.1" width="7.9" height="6.3" fill="#fff"/>
<text x="371.0" y="49.0" font-size="5" text-anchor="middle" fill="#111" font-family="Liberation Sans, sans-serif">4.5</text>
<rect x="458.1" y="42.6" width="3.8" height="6.3" fill="#fff"/>
<text x="460.0" y="47.5" font-size="5" text-anchor="middle" fill="#111" font-family="Liberation Sans, sans-serif">4</text>
<rect x="348.0" y="55.6" width="7.9" height="6.3" fill="#fff"/>
<text x="352.0" y="60.5" font-size="5" text-anchor="middle" fill="#111" font-family="Liberation Sans, sans-serif">4.5</text>
<rect x="293.5" y="63.1" width="7.9" height="6.3" fill="#fff"/>
<text x="297.5" y="68.0" font-size="5" text-anchor="middle" fill="#111" font-family="Liberation Sans, sans-serif">4.5</text>
<rect x="414.1" y="64.1" width="3.8" height="6.3" fill="#fff"/>
<text x="416.0" y="69.0" font-size="5" text-anchor="middle" fill="#111" font-family="Liberation Sans, sans-serif">4</text>
<rect x="491.6" y="54.6" width="3.8" height="6.3" fill="#fff"/>
<text x="493.5" y="59.5" font-size="5" text-anchor="middle" fill="#111" font-family="Liberation Sans, sans-serif">4</text>
<rect x="352.6" y="70.1" width="3.8" height="6.3" fill="#fff"/>
<text x="354.5" y="75.0" font-size="5" text-anchor="middle" fill="#111" font-family="Liberation Sans, sans-serif">4</text>
<rect x="291.6" y="76.6" width="3.8" height="6.3" fill="#fff"/>
<text x="293.5" y="81.5" font-size="5" text-anchor="middle" fill="#111" font-family="Liberation Sans, sans-serif">4</text>
<rect x="443.0" y="72.6" width="7.9" height="6.3" fill="#fff"/>
<text x="447.0" y="77.5" font-size="5" text-anchor="middle" fill="#111" font-family="Liberation Sans, sans-serif">3.5</text>
<rect x="309.5" y="85.6" width="7.9" height="6.3" fill="#fff"/>
<text x="313.5" y="90.5" font-size="5" text-anchor="middle" fill="#111" font-family="Liberation Sans, sans-serif">3.5</text>
<rect x="359.5" y="91.6" width="7.9" height="6.3" fill="#fff"/>
<text x="363.5" y="96.5" font-size="5" text-anchor="middle" fill="#111" font-family="Liberation Sans, sans-serif">3.5</text>
<rect x="419.5" y="89.6" width="7.9" height="6.3" fill="#fff"/>
<text x="423.5" y="94.5" font-size="5" text-anchor="middle" fill="#111" font-family="Liberation Sans, sans-serif">3.5</text>
<rect x="479.5" y="87.1" width="7.9" height="6.3" fill="#fff"/>
<text x="483.5" y="92.0" font-size="5" text-anchor="middle" fill="#111" font-family="Liberation Sans, sans-serif">3.5</text>
<rect x="306.0" y="97.1" width="7.9" height="6.3" fill="#fff"/>
<text x="310.0" y="102.0" font-size="5" text-anchor="middle" fill="#111" font-family="Liberation Sans, sans-serif">3.5</text>
<rect x="292.6" y="108.6" width="3.8" height="6.3" fill="#fff"/>
<text x="294.5" y="113.5" font-size="5" text-anchor="middle" fill="#111" font-family="Liberation Sans, sans-serif">4</text>
<rect x="412.6" y="105.6" width="3.8" height="6.3" fill="#fff"/>
<text x="414.5" y="110.5" font-size="5" text-anchor="middle" fill="#111" font-family="Liberation Sans, sans-serif">4</text>
<rect x="469.1" y="102.1" width="3.8" height="6.3" fill="#fff"/>
<text x="471.0" y="107.0" font-size="5" text-anchor="middle" fill="#111" font-family="Liberation Sans, sans-serif">4</text>
<rect x="353.1" y="115.1" width="3.8" height="6.3" fill="#fff"/>
<text x="355.0" y="120.0" font-size="5" text-anchor="middle" fill="#111" font-family="Liberation Sans, sans-serif">4</text>
<rect x="443.5" y="120.1" width="7.9" height="6.3" fill="#fff"/>
<text x="447.5" y="125.0" font-size="5" text-anchor="middle" fill="#111" font-family="Liberation Sans, sans-serif">4.5</text>
<rect x="493.1" y="129.6" width="3.8" height="6.3" fill="#fff"/>
<text x="495.0" y="134.6" font-size="5" text-anchor="middle" fill="#111" font-family="Liberation Sans, sans-serif">5</text>
<rect x="302.6" y="137.6" width="3.8" height="6.3" fill="#fff"/>
<text x="304.5" y="142.6" font-size="5" text-anchor="middle" fill="#111" font-family="Liberation Sans, sans-serif">5</text>
<rect x="332.0" y="137.6" width="7.9" height="6.3" fill="#fff"/>
<text x="336.0" y="142.6" font-size="5" text-anchor="middle" fill="#111" font-family="Liberation Sans, sans-serif">4.5</text>
<rect x="488.0" y="142.6" width="7.9" height="6.3" fill="#fff"/>
<text x="492.0" y="147.6" font-size="5" text-anchor="middle" fill="#111" font-family="Liberation Sans, sans-serif">4.5</text>
<rect x="305.5" y="146.1" width="7.9" height="6.3" fill="#fff"/>
<text x="309.5" y="151.1" font-size="5" text-anchor="middle" fill="#111" font-family="Liberation Sans, sans-serif">5.5</text>
<rect x="298.6" y="147.6" width="3.8" height="6.3" fill="#fff"/>
<text x="300.5" y="152.6" font-size="5" text-anchor="middle" fill="#111" font-family="Liberation Sans, sans-serif">6</text>
<rect x="357.6" y="148.6" width="3.8" height="6.3" fill="#fff"/>
<text x="359.5" y="153.6" font-size="5" text-anchor="middle" fill="#111" font-family="Liberation Sans, sans-serif">5</text>
<rect x="392.0" y="146.6" width="7.9" height="6.3" fill="#fff"/>
<text x="396.0" y="151.6" font-size="5" text-anchor="middle" fill="#111" font-family="Liberation Sans, sans-serif">4.5</text>
<text x="313.8" y="15.6" font-size="7.66" word-spacing="0.3" fill="#1a1a1a" stroke="#1a1a1a" stroke-width="0.08" font-family="Liberation Sans, sans-serif">Standard Error MMP9 Contour Plot (Time = 48 h)</text>
<text x="265.6" y="15.0" font-size="12" fill="#111" font-family="Liberation Sans, sans-serif">(B)</text>
<text x="370.5" y="176.4" font-size="7.9" fill="#1a1a1a" stroke="#1a1a1a" stroke-width="0.08" textLength="47.0" lengthAdjust="spacingAndGlyphs" font-family="Liberation Sans, sans-serif">IL-1β (ng/mL)</text>
<text x="0" y="0" font-size="8.1" fill="#1a1a1a" stroke="#1a1a1a" stroke-width="0.08" text-anchor="middle" transform="translate(277.4 89.0) rotate(-90)" font-family="Liberation Sans, sans-serif">TNFα (ng/mL)</text>
<g clip-path="url(#clipC)">
<rect x="29.5" y="200.5" width="211.5" height="138.0" fill="#c9e8c8"/>
<path d="M29.5 291.3 C31.2 292.2 36.3 295.0 39.7 296.9 C43.1 298.8 46.3 300.6 50.0 302.5 C53.7 304.4 58.2 306.9 61.7 308.6 C65.2 310.3 67.8 311.5 71.0 312.8 C74.2 314.1 78.2 315.3 80.8 316.7 C83.4 318.1 85.4 319.4 86.7 321.1 C88.0 322.8 88.7 325.3 88.4 327.0 C88.2 328.7 86.9 330.1 85.2 331.4 C83.5 332.7 80.4 333.6 78.0 335.0 C75.6 336.4 72.2 339.2 71.0 340.0 L20.0 345.0 L20.0 291.3 Z" fill="#ffffff"/>
<path d="M242.0 306.5 C239.6 307.3 232.1 309.5 227.3 311.4 C222.5 313.3 217.1 316.1 213.2 317.9 C209.3 319.7 206.1 320.7 203.8 322.0 C201.5 323.3 200.5 324.3 199.6 325.5 C198.7 326.7 198.1 327.8 198.2 329.0 C198.3 330.2 199.1 331.2 200.3 332.6 C201.5 334.0 204.3 336.1 205.5 337.3 C206.7 338.5 207.2 339.6 207.5 340.0 L250.0 345.0 L250.0 306.5 Z" fill="#ffffff"/>
<path d="M29.5 270.6 C30.7 271.3 31.5 272.8 36.6 274.9 C41.7 277.0 49.9 279.9 60.3 283.1 C70.7 286.3 86.5 291.8 99.0 294.3 C111.5 296.8 125.0 297.3 135.0 298.2 C145.0 299.1 149.0 299.8 159.2 299.5 C169.4 299.2 186.0 297.4 196.4 296.3 C206.8 295.2 214.0 293.9 221.6 292.9 C229.2 291.9 238.6 290.6 242.0 290.2 L250.0 290.2 L250.0 190.0 L38.0 190.0 L28.0 203.0 C28.7 202.6 30.3 201.2 32.0 200.5 C33.7 199.8 37.0 199.2 38.0 199.0 L20.0 203.0 L20.0 270.6 Z" fill="#98d496"/>
<path d="M29.0 246.5 C29.4 246.9 27.8 246.8 31.2 249.0 C34.6 251.2 41.4 255.7 49.5 259.4 C57.6 263.1 68.9 268.1 79.7 271.2 C90.5 274.2 104.4 276.1 114.1 277.7 C123.8 279.3 128.7 280.1 138.0 280.9 C147.3 281.7 159.6 282.4 169.8 282.3 C180.0 282.2 187.0 281.3 199.0 280.2 C211.0 279.1 234.8 276.4 242.0 275.6 L250.0 275.6 L250.0 190.0 L67.0 190.0 L67.0 199.0 C64.2 200.3 55.4 204.6 50.5 206.9 C45.6 209.2 41.0 210.4 37.7 212.6 C34.4 214.8 32.1 218.4 30.7 220.3 C29.2 222.2 29.3 223.4 29.0 224.0 L20.0 224.0 L20.0 246.5 Z" fill="#6ebe6e"/>
<path d="M144.0 198.0 C142.0 198.6 137.0 200.4 132.0 201.5 C127.0 202.6 120.8 203.1 114.0 204.8 C107.2 206.6 98.2 209.5 91.4 212.0 C84.6 214.5 77.7 217.3 73.4 219.6 C69.1 221.9 67.5 223.3 65.8 226.0 C64.1 228.7 63.0 232.9 63.2 235.5 C63.4 238.1 64.9 239.5 67.0 241.3 C69.1 243.1 72.5 244.8 76.0 246.4 C79.5 248.0 82.5 248.5 88.3 250.8 C94.1 253.1 102.6 257.9 110.9 260.0 C119.2 262.1 128.0 262.8 138.0 263.7 C148.1 264.6 159.2 265.8 171.2 265.6 C183.1 265.4 197.9 263.5 209.7 262.4 C221.5 261.3 236.6 259.6 242.0 259.0 L250.0 259.0 L250.0 190.0 L144.0 190.0 Z" fill="#4aa54b"/>
<path d="M256.8 228.2 C256.8 229.7 256.1 231.3 254.6 232.7 C253.1 234.1 250.8 235.5 248.0 236.8 C245.2 238.1 241.6 239.4 237.6 240.4 C233.6 241.4 229.0 242.4 224.1 243.1 C219.2 243.8 213.8 244.4 208.3 244.8 C202.9 245.2 197.0 245.4 191.4 245.4 C185.8 245.4 179.9 245.2 174.5 244.8 C169.1 244.4 163.6 243.8 158.7 243.1 C153.8 242.4 149.2 241.4 145.2 240.4 C141.2 239.4 137.6 238.1 134.8 236.8 C132.0 235.5 129.7 234.1 128.2 232.7 C126.7 231.3 126.0 229.7 126.0 228.2 C126.0 226.7 126.7 225.1 128.2 223.7 C129.7 222.3 132.0 220.9 134.8 219.6 C137.6 218.3 141.2 217.1 145.2 216.0 C149.2 214.9 153.8 214.0 158.7 213.3 C163.6 212.6 169.1 212.0 174.5 211.6 C179.9 211.2 185.8 211.0 191.4 211.0 C197.0 211.0 202.9 211.2 208.3 211.6 C213.8 212.0 219.2 212.6 224.1 213.3 C229.0 214.0 233.6 214.9 237.6 216.0 C241.6 217.1 245.2 218.3 248.0 219.6 C250.8 220.9 253.1 222.3 254.6 223.7 C256.1 225.1 256.8 226.7 256.8 228.2 Z" fill="#2a8b2d"/>
<path d="M29.5 291.3 C31.2 292.2 36.3 295.0 39.7 296.9 C43.1 298.8 46.3 300.6 50.0 302.5 C53.7 304.4 58.2 306.9 61.7 308.6 C65.2 310.3 67.8 311.5 71.0 312.8 C74.2 314.1 78.2 315.3 80.8 316.7 C83.4 318.1 85.4 319.4 86.7 321.1 C88.0 322.8 88.7 325.3 88.4 327.0 C88.2 328.7 86.9 330.1 85.2 331.4 C83.5 332.7 80.4 333.6 78.0 335.0 C75.6 336.4 72.2 339.2 71.0 340.0" fill="none" stroke="#1f5f22" stroke-opacity="0.55" stroke-width="0.55"/>
<path d="M242.0 306.5 C239.6 307.3 232.1 309.5 227.3 311.4 C222.5 313.3 217.1 316.1 213.2 317.9 C209.3 319.7 206.1 320.7 203.8 322.0 C201.5 323.3 200.5 324.3 199.6 325.5 C198.7 326.7 198.1 327.8 198.2 329.0 C198.3 330.2 199.1 331.2 200.3 332.6 C201.5 334.0 204.3 336.1 205.5 337.3 C206.7 338.5 207.2 339.6 207.5 340.0" fill="none" stroke="#1f5f22" stroke-opacity="0.55" stroke-width="0.55"/>
<path d="M29.5 270.6 C30.7 271.3 31.5 272.8 36.6 274.9 C41.7 277.0 49.9 279.9 60.3 283.1 C70.7 286.3 86.5 291.8 99.0 294.3 C111.5 296.8 125.0 297.3 135.0 298.2 C145.0 299.1 149.0 299.8 159.2 299.5 C169.4 299.2 186.0 297.4 196.4 296.3 C206.8 295.2 214.0 293.9 221.6 292.9 C229.2 291.9 238.6 290.6 242.0 290.2" fill="none" stroke="#1f5f22" stroke-opacity="0.55" stroke-width="0.55"/>
<path d="M67.0 199.0 C64.2 200.3 55.4 204.6 50.5 206.9 C45.6 209.2 41.0 210.4 37.7 212.6 C34.4 214.8 32.1 218.4 30.7 220.3 C29.2 222.2 29.3 223.4 29.0 224.0" fill="none" stroke="#1f5f22" stroke-opacity="0.55" stroke-width="0.55"/>
<path d="M29.0 246.5 C29.4 246.9 27.8 246.8 31.2 249.0 C34.6 251.2 41.4 255.7 49.5 259.4 C57.6 263.1 68.9 268.1 79.7 271.2 C90.5 274.2 104.4 276.1 114.1 277.7 C123.8 279.3 128.7 280.1 138.0 280.9 C147.3 281.7 159.6 282.4 169.8 282.3 C180.0 282.2 187.0 281.3 199.0 280.2 C211.0 279.1 234.8 276.4 242.0 275.6" fill="none" stroke="#1f5f22" stroke-opacity="0.55" stroke-width="0.55"/>
<path d="M144.0 198.0 C142.0 198.6 137.0 200.4 132.0 201.5 C127.0 202.6 120.8 203.1 114.0 204.8 C107.2 206.6 98.2 209.5 91.4 212.0 C84.6 214.5 77.7 217.3 73.4 219.6 C69.1 221.9 67.5 223.3 65.8 226.0 C64.1 228.7 63.0 232.9 63.2 235.5 C63.4 238.1 64.9 239.5 67.0 241.3 C69.1 243.1 72.5 244.8 76.0 246.4 C79.5 248.0 82.5 248.5 88.3 250.8 C94.1 253.1 102.6 257.9 110.9 260.0 C119.2 262.1 128.0 262.8 138.0 263.7 C148.1 264.6 159.2 265.8 171.2 265.6 C183.1 265.4 197.9 263.5 209.7 262.4 C221.5 261.3 236.6 259.6 242.0 259.0" fill="none" stroke="#1f5f22" stroke-opacity="0.55" stroke-width="0.55"/>
<path d="M256.8 228.2 C256.8 229.7 256.1 231.3 254.6 232.7 C253.1 234.1 250.8 235.5 248.0 236.8 C245.2 238.1 241.6 239.4 237.6 240.4 C233.6 241.4 229.0 242.4 224.1 243.1 C219.2 243.8 213.8 244.4 208.3 244.8 C202.9 245.2 197.0 245.4 191.4 245.4 C185.8 245.4 179.9 245.2 174.5 244.8 C169.1 244.4 163.6 243.8 158.7 243.1 C153.8 242.4 149.2 241.4 145.2 240.4 C141.2 239.4 137.6 238.1 134.8 236.8 C132.0 235.5 129.7 234.1 128.2 232.7 C126.7 231.3 126.0 229.7 126.0 228.2 C126.0 226.7 126.7 225.1 128.2 223.7 C129.7 222.3 132.0 220.9 134.8 219.6 C137.6 218.3 141.2 217.1 145.2 216.0 C149.2 214.9 153.8 214.0 158.7 213.3 C163.6 212.6 169.1 212.0 174.5 211.6 C179.9 211.2 185.8 211.0 191.4 211.0 C197.0 211.0 202.9 211.2 208.3 211.6 C213.8 212.0 219.2 212.6 224.1 213.3 C229.0 214.0 233.6 214.9 237.6 216.0 C241.6 217.1 245.2 218.3 248.0 219.6 C250.8 220.9 253.1 222.3 254.6 223.7 C256.1 225.1 256.8 226.7 256.8 228.2 Z" fill="none" stroke="#1f5f22" stroke-opacity="0.55" stroke-width="0.55"/>
</g>
<line x1="29.5" y1="200.5" x2="241.0" y2="200.5" stroke="#8a8a8a" stroke-width="0.6"/>
<line x1="29.5" y1="200.2" x2="29.5" y2="338.9" stroke="#666" stroke-width="0.6"/>
<line x1="29.1" y1="338.5" x2="241.3" y2="338.5" stroke="#666" stroke-width="0.75"/>
<line x1="29.5" y1="338.5" x2="29.5" y2="340.7" stroke="#555" stroke-width="0.5"/>
<line x1="29.5" y1="338.5" x2="27.3" y2="338.5" stroke="#555" stroke-width="0.5"/>
<text x="29.5" y="346.6" font-size="4.3" text-anchor="middle" fill="#1a1a1a" stroke="#1a1a1a" stroke-width="0.12" font-family="Liberation Sans, sans-serif">0</text>
<text x="25.0" y="340.1" font-size="4.3" text-anchor="end" fill="#1a1a1a" stroke="#1a1a1a" stroke-width="0.12" font-family="Liberation Sans, sans-serif">0</text>
<line x1="40.1" y1="338.5" x2="40.1" y2="339.8" stroke="#555" stroke-width="0.5"/>
<line x1="29.5" y1="331.6" x2="28.2" y2="331.6" stroke="#555" stroke-width="0.5"/>
<line x1="50.6" y1="338.5" x2="50.6" y2="340.7" stroke="#555" stroke-width="0.5"/>
<line x1="29.5" y1="324.7" x2="27.3" y2="324.7" stroke="#555" stroke-width="0.5"/>
<text x="50.6" y="346.6" font-size="4.3" text-anchor="middle" fill="#1a1a1a" stroke="#1a1a1a" stroke-width="0.12" font-family="Liberation Sans, sans-serif">2</text>
<text x="25.0" y="326.3" font-size="4.3" text-anchor="end" fill="#1a1a1a" stroke="#1a1a1a" stroke-width="0.12" font-family="Liberation Sans, sans-serif">2</text>
<line x1="61.2" y1="338.5" x2="61.2" y2="339.8" stroke="#555" stroke-width="0.5"/>
<line x1="29.5" y1="317.8" x2="28.2" y2="317.8" stroke="#555" stroke-width="0.5"/>
<line x1="71.8" y1="338.5" x2="71.8" y2="340.7" stroke="#555" stroke-width="0.5"/>
<line x1="29.5" y1="310.9" x2="27.3" y2="310.9" stroke="#555" stroke-width="0.5"/>
<text x="71.8" y="346.6" font-size="4.3" text-anchor="middle" fill="#1a1a1a" stroke="#1a1a1a" stroke-width="0.12" font-family="Liberation Sans, sans-serif">4</text>
<text x="25.0" y="312.5" font-size="4.3" text-anchor="end" fill="#1a1a1a" stroke="#1a1a1a" stroke-width="0.12" font-family="Liberation Sans, sans-serif">4</text>
<line x1="82.4" y1="338.5" x2="82.4" y2="339.8" stroke="#555" stroke-width="0.5"/>
<line x1="29.5" y1="304.0" x2="28.2" y2="304.0" stroke="#555" stroke-width="0.5"/>
<line x1="93.0" y1="338.5" x2="93.0" y2="340.7" stroke="#555" stroke-width="0.5"/>
<line x1="29.5" y1="297.1" x2="27.3" y2="297.1" stroke="#555" stroke-width="0.5"/>
<text x="93.0" y="346.6" font-size="4.3" text-anchor="middle" fill="#1a1a1a" stroke="#1a1a1a" stroke-width="0.12" font-family="Liberation Sans, sans-serif">6</text>
<text x="25.0" y="298.7" font-size="4.3" text-anchor="end" fill="#1a1a1a" stroke="#1a1a1a" stroke-width="0.12" font-family="Liberation Sans, sans-serif">6</text>
<line x1="103.5" y1="338.5" x2="103.5" y2="339.8" stroke="#555" stroke-width="0.5"/>
<line x1="29.5" y1="290.2" x2="28.2" y2="290.2" stroke="#555" stroke-width="0.5"/>
<line x1="114.1" y1="338.5" x2="114.1" y2="340.7" stroke="#555" stroke-width="0.5"/>
<line x1="29.5" y1="283.3" x2="27.3" y2="283.3" stroke="#555" stroke-width="0.5"/>
<text x="114.1" y="346.6" font-size="4.3" text-anchor="middle" fill="#1a1a1a" stroke="#1a1a1a" stroke-width="0.12" font-family="Liberation Sans, sans-serif">8</text>
<text x="25.0" y="284.9" font-size="4.3" text-anchor="end" fill="#1a1a1a" stroke="#1a1a1a" stroke-width="0.12" font-family="Liberation Sans, sans-serif">8</text>
<line x1="124.7" y1="338.5" x2="124.7" y2="339.8" stroke="#555" stroke-width="0.5"/>
<line x1="29.5" y1="276.4" x2="28.2" y2="276.4" stroke="#555" stroke-width="0.5"/>
<line x1="135.2" y1="338.5" x2="135.2" y2="340.7" stroke="#555" stroke-width="0.5"/>
<line x1="29.5" y1="269.5" x2="27.3" y2="269.5" stroke="#555" stroke-width="0.5"/>
<text x="135.2" y="346.6" font-size="4.3" text-anchor="middle" fill="#1a1a1a" stroke="#1a1a1a" stroke-width="0.12" font-family="Liberation Sans, sans-serif">10</text>
<text x="25.0" y="271.1" font-size="4.3" text-anchor="end" fill="#1a1a1a" stroke="#1a1a1a" stroke-width="0.12" font-family="Liberation Sans, sans-serif">10</text>
<line x1="145.8" y1="338.5" x2="145.8" y2="339.8" stroke="#555" stroke-width="0.5"/>
<line x1="29.5" y1="262.6" x2="28.2" y2="262.6" stroke="#555" stroke-width="0.5"/>
<line x1="156.4" y1="338.5" x2="156.4" y2="340.7" stroke="#555" stroke-width="0.5"/>
<line x1="29.5" y1="255.7" x2="27.3" y2="255.7" stroke="#555" stroke-width="0.5"/>
<text x="156.4" y="346.6" font-size="4.3" text-anchor="middle" fill="#1a1a1a" stroke="#1a1a1a" stroke-width="0.12" font-family="Liberation Sans, sans-serif">12</text>
<text x="25.0" y="257.3" font-size="4.3" text-anchor="end" fill="#1a1a1a" stroke="#1a1a1a" stroke-width="0.12" font-family="Liberation Sans, sans-serif">12</text>
<line x1="167.0" y1="338.5" x2="167.0" y2="339.8" stroke="#555" stroke-width="0.5"/>
<line x1="29.5" y1="248.8" x2="28.2" y2="248.8" stroke="#555" stroke-width="0.5"/>
<line x1="177.6" y1="338.5" x2="177.6" y2="340.7" stroke="#555" stroke-width="0.5"/>
<line x1="29.5" y1="241.9" x2="27.3" y2="241.9" stroke="#555" stroke-width="0.5"/>
<text x="177.6" y="346.6" font-size="4.3" text-anchor="middle" fill="#1a1a1a" stroke="#1a1a1a" stroke-width="0.12" font-family="Liberation Sans, sans-serif">14</text>
<text x="25.0" y="243.5" font-size="4.3" text-anchor="end" fill="#1a1a1a" stroke="#1a1a1a" stroke-width="0.12" font-family="Liberation Sans, sans-serif">14</text>
<line x1="188.1" y1="338.5" x2="188.1" y2="339.8" stroke="#555" stroke-width="0.5"/>
<line x1="29.5" y1="235.0" x2="28.2" y2="235.0" stroke="#555" stroke-width="0.5"/>
<line x1="198.7" y1="338.5" x2="198.7" y2="340.7" stroke="#555" stroke-width="0.5"/>
<line x1="29.5" y1="228.1" x2="27.3" y2="228.1" stroke="#555" stroke-width="0.5"/>
<text x="198.7" y="346.6" font-size="4.3" text-anchor="middle" fill="#1a1a1a" stroke="#1a1a1a" stroke-width="0.12" font-family="Liberation Sans, sans-serif">16</text>
<text x="25.0" y="229.7" font-size="4.3" text-anchor="end" fill="#1a1a1a" stroke="#1a1a1a" stroke-width="0.12" font-family="Liberation Sans, sans-serif">16</text>
<line x1="209.3" y1="338.5" x2="209.3" y2="339.8" stroke="#555" stroke-width="0.5"/>
<line x1="29.5" y1="221.2" x2="28.2" y2="221.2" stroke="#555" stroke-width="0.5"/>
<line x1="219.8" y1="338.5" x2="219.8" y2="340.7" stroke="#555" stroke-width="0.5"/>
<line x1="29.5" y1="214.3" x2="27.3" y2="214.3" stroke="#555" stroke-width="0.5"/>
<text x="219.8" y="346.6" font-size="4.3" text-anchor="middle" fill="#1a1a1a" stroke="#1a1a1a" stroke-width="0.12" font-family="Liberation Sans, sans-serif">18</text>
<text x="25.0" y="215.9" font-size="4.3" text-anchor="end" fill="#1a1a1a" stroke="#1a1a1a" stroke-width="0.12" font-family="Liberation Sans, sans-serif">18</text>
<line x1="230.4" y1="338.5" x2="230.4" y2="339.8" stroke="#555" stroke-width="0.5"/>
<line x1="29.5" y1="207.4" x2="28.2" y2="207.4" stroke="#555" stroke-width="0.5"/>
<line x1="241.0" y1="338.5" x2="241.0" y2="340.7" stroke="#555" stroke-width="0.5"/>
<line x1="29.5" y1="200.5" x2="27.3" y2="200.5" stroke="#555" stroke-width="0.5"/>
<text x="241.0" y="346.6" font-size="4.3" text-anchor="middle" fill="#1a1a1a" stroke="#1a1a1a" stroke-width="0.12" font-family="Liberation Sans, sans-serif">20</text>
<text x="25.0" y="202.1" font-size="4.3" text-anchor="end" fill="#1a1a1a" stroke="#1a1a1a" stroke-width="0.12" font-family="Liberation Sans, sans-serif">20</text>
<rect x="109.7" y="200.6" width="6.6" height="6.3" fill="#fff"/>
<text x="113.0" y="205.6" font-size="5" text-anchor="middle" fill="#111" font-family="Liberation Sans, sans-serif">60</text>
<rect x="178.2" y="207.6" width="6.6" height="6.3" fill="#fff"/>
<text x="181.5" y="212.6" font-size="5" text-anchor="middle" fill="#111" font-family="Liberation Sans, sans-serif">70</text>
<rect x="32.7" y="210.6" width="6.6" height="6.3" fill="#fff"/>
<text x="36.0" y="215.6" font-size="5" text-anchor="middle" fill="#111" font-family="Liberation Sans, sans-serif">50</text>
<rect x="120.7" y="221.1" width="6.6" height="6.3" fill="#fff"/>
<text x="124.0" y="226.1" font-size="5" text-anchor="middle" fill="#111" font-family="Liberation Sans, sans-serif">70</text>
<rect x="58.7" y="231.6" width="6.6" height="6.3" fill="#fff"/>
<text x="62.0" y="236.6" font-size="5" text-anchor="middle" fill="#111" font-family="Liberation Sans, sans-serif">60</text>
<rect x="228.2" y="234.1" width="6.6" height="6.3" fill="#fff"/>
<text x="231.5" y="239.1" font-size="5" text-anchor="middle" fill="#111" font-family="Liberation Sans, sans-serif">70</text>
<rect x="27.7" y="245.6" width="6.6" height="6.3" fill="#fff"/>
<text x="31.0" y="250.6" font-size="5" text-anchor="middle" fill="#111" font-family="Liberation Sans, sans-serif">50</text>
<rect x="167.7" y="241.6" width="6.6" height="6.3" fill="#fff"/>
<text x="171.0" y="246.6" font-size="5" text-anchor="middle" fill="#111" font-family="Liberation Sans, sans-serif">70</text>
<rect x="106.7" y="255.6" width="6.6" height="6.3" fill="#fff"/>
<text x="110.0" y="260.6" font-size="5" text-anchor="middle" fill="#111" font-family="Liberation Sans, sans-serif">60</text>
<rect x="167.7" y="262.1" width="6.6" height="6.3" fill="#fff"/>
<text x="171.0" y="267.1" font-size="5" text-anchor="middle" fill="#111" font-family="Liberation Sans, sans-serif">60</text>
<rect x="76.2" y="267.6" width="6.6" height="6.3" fill="#fff"/>
<text x="79.5" y="272.6" font-size="5" text-anchor="middle" fill="#111" font-family="Liberation Sans, sans-serif">50</text>
<rect x="32.7" y="270.6" width="6.6" height="6.3" fill="#fff"/>
<text x="36.0" y="275.6" font-size="5" text-anchor="middle" fill="#111" font-family="Liberation Sans, sans-serif">40</text>
<rect x="135.7" y="277.6" width="6.6" height="6.3" fill="#fff"/>
<text x="139.0" y="282.6" font-size="5" text-anchor="middle" fill="#111" font-family="Liberation Sans, sans-serif">50</text>
<rect x="195.7" y="276.6" width="6.6" height="6.3" fill="#fff"/>
<text x="199.0" y="281.6" font-size="5" text-anchor="middle" fill="#111" font-family="Liberation Sans, sans-serif">50</text>
<rect x="95.7" y="290.6" width="6.6" height="6.3" fill="#fff"/>
<text x="99.0" y="295.6" font-size="5" text-anchor="middle" fill="#111" font-family="Liberation Sans, sans-serif">40</text>
<rect x="155.7" y="296.6" width="6.6" height="6.3" fill="#fff"/>
<text x="159.0" y="301.6" font-size="5" text-anchor="middle" fill="#111" font-family="Liberation Sans, sans-serif">40</text>
<rect x="217.7" y="288.6" width="6.6" height="6.3" fill="#fff"/>
<text x="221.0" y="293.6" font-size="5" text-anchor="middle" fill="#111" font-family="Liberation Sans, sans-serif">40</text>
<rect x="35.7" y="292.6" width="6.6" height="6.3" fill="#fff"/>
<text x="39.0" y="297.6" font-size="5" text-anchor="middle" fill="#111" font-family="Liberation Sans, sans-serif">30</text>
<rect x="82.7" y="321.1" width="6.6" height="6.3" fill="#fff"/>
<text x="86.0" y="326.1" font-size="5" text-anchor="middle" fill="#111" font-family="Liberation Sans, sans-serif">30</text>
<rect x="193.2" y="328.6" width="6.6" height="6.3" fill="#fff"/>
<text x="196.5" y="333.6" font-size="5" text-anchor="middle" fill="#111" font-family="Liberation Sans, sans-serif">30</text>
<text x="60.2" y="196.4" font-size="7.66" word-spacing="0.3" fill="#1a1a1a" stroke="#1a1a1a" stroke-width="0.08" font-family="Liberation Sans, sans-serif">Predicted MMP9 Contour Plot (Time = 24 h)</text>
<text x="2.6" y="194.9" font-size="12" fill="#111" font-family="Liberation Sans, sans-serif">(C)</text>
<text x="108.0" y="358.3" font-size="7.9" fill="#1a1a1a" stroke="#1a1a1a" stroke-width="0.08" textLength="45.4" lengthAdjust="spacingAndGlyphs" font-family="Liberation Sans, sans-serif">IL-1β (ng/mL)</text>
<text x="0" y="0" font-size="8.1" fill="#1a1a1a" stroke="#1a1a1a" stroke-width="0.08" text-anchor="middle" transform="translate(13.8 269.5) rotate(-90)" font-family="Liberation Sans, sans-serif">TNFα (ng/mL)</text>
<g clip-path="url(#clipD)">
<rect x="292.5" y="204.0" width="209.3" height="133.6" fill="#b2e3b0"/>
<path d="M292.5 217.8 C295.3 218.0 303.1 218.8 309.5 218.8 C315.9 218.8 323.8 218.2 331.0 217.6 C338.2 217.0 345.4 216.1 352.6 215.5 C359.8 214.9 366.5 214.3 374.1 214.0 C381.7 213.7 391.3 213.3 398.0 213.4 C404.7 213.5 407.7 214.3 414.4 214.7 C421.1 215.0 428.8 215.4 438.0 215.5 C447.2 215.6 462.1 215.9 469.5 215.5 C476.9 215.1 479.7 214.2 482.6 213.1 C485.5 212.0 486.6 210.4 486.7 209.0 C486.8 207.6 483.9 206.0 483.0 204.5 C482.1 203.0 481.3 200.8 481.0 200.0 L285.0 200.0 L285.0 217.2 Z" fill="#d7f0d6"/>
<path d="M292.5 226.3 C293.9 227.0 297.3 229.1 300.9 230.2 C304.4 231.3 309.5 232.6 313.8 232.8 C318.1 233.0 322.1 232.2 326.8 231.3 C331.5 230.4 337.5 228.5 341.8 227.6 C346.1 226.7 347.2 226.6 352.6 225.9 C358.0 225.2 366.5 224.2 374.1 223.7 C381.7 223.1 391.6 222.5 398.0 222.6 C404.4 222.7 405.5 223.5 412.2 224.1 C418.9 224.7 429.8 225.0 438.0 225.9 C446.2 226.8 455.4 229.1 461.3 229.5 C467.2 229.9 469.5 229.6 473.6 228.6 C477.7 227.6 482.5 225.3 485.9 223.7 C489.3 222.1 491.1 220.3 494.0 218.8 C496.9 217.3 501.5 215.2 503.0 214.5 L510.0 214.5 L510.0 345.0 L499.0 345.0 L499.0 340.0 C498.9 339.3 499.9 337.4 498.3 336.0 C496.8 334.6 492.6 333.1 489.7 331.7 C486.8 330.3 486.1 329.0 481.1 327.4 C476.1 325.8 467.3 323.9 459.6 322.0 C451.9 320.1 442.0 318.0 434.8 316.2 C427.6 314.4 421.8 312.9 416.5 311.2 C411.2 309.5 405.2 306.9 403.0 306.0 L403.0 306.0 C402.8 305.8 401.3 305.4 401.5 304.8 C401.7 304.2 400.8 303.9 404.0 302.5 C407.2 301.1 413.3 298.9 420.8 296.2 C428.3 293.5 442.1 288.4 448.8 286.5 C455.6 284.6 456.5 286.0 461.3 285.1 C466.1 284.2 473.1 282.4 477.7 281.0 C482.3 279.6 486.1 278.7 489.1 276.9 C492.1 275.1 494.2 272.8 495.7 270.4 C497.2 267.9 498.1 264.9 498.1 262.2 C498.1 259.5 497.5 256.4 495.7 254.0 C493.9 251.6 490.8 249.4 487.5 247.5 C484.2 245.6 480.5 244.1 476.1 242.6 C471.7 241.1 466.5 238.9 461.3 238.5 C456.1 238.1 452.5 239.0 445.0 240.1 C437.5 241.2 424.3 243.9 416.5 244.8 C408.7 245.7 405.1 245.6 398.0 245.7 C390.9 245.8 381.0 245.6 374.1 245.3 C367.2 245.0 364.1 245.1 356.9 243.8 C349.7 242.5 338.2 239.0 331.0 237.7 C323.8 236.4 319.4 235.7 313.8 236.2 C308.2 236.7 301.2 239.3 297.7 240.5 C294.1 241.7 293.4 242.7 292.5 243.1 L285.0 243.1 L285.0 226.3 Z" fill="#8ed78b"/>
<path d="M503.0 285.2 C502.6 285.2 503.8 284.8 500.5 285.4 C497.2 285.9 488.0 287.2 483.0 288.5 C478.0 289.8 473.9 291.5 470.3 293.0 C466.8 294.5 463.9 295.5 461.7 297.3 C459.5 299.1 457.5 302.2 457.4 304.0 C457.3 305.8 458.9 306.8 461.0 308.0 C463.1 309.2 466.2 308.9 470.3 311.2 C474.4 313.5 482.1 319.6 485.4 322.0 C488.7 324.4 487.5 324.2 490.0 325.5 C492.5 326.8 498.3 328.8 500.5 329.5 C502.7 330.2 502.6 329.9 503.0 330.0 L510.0 330.0 L510.0 285.2 Z" fill="#6ec86e"/>
<path d="M503.0 290.0 C502.6 290.1 502.7 289.9 500.5 290.8 C498.3 291.7 492.2 293.0 489.7 295.1 C487.2 297.2 485.9 301.1 485.4 303.7 C484.9 306.3 485.4 308.7 486.5 311.0 C487.6 313.3 489.6 315.9 491.9 317.7 C494.2 319.5 498.6 321.2 500.5 322.0 C502.4 322.8 502.6 322.4 503.0 322.5 L510.0 322.5 L510.0 290.0 Z" fill="#52b852"/>
<path d="M292.5 256.5 C295.3 256.0 302.7 254.0 309.5 253.4 C316.3 252.8 326.0 252.5 333.2 252.8 C340.4 253.1 345.8 254.2 352.6 255.0 C359.4 255.8 367.5 257.1 374.1 257.8 C380.7 258.5 384.8 259.0 392.4 259.3 C400.0 259.6 411.2 259.5 420.0 259.6 C428.8 259.7 438.1 259.7 445.0 259.7 C451.9 259.7 457.5 259.2 461.3 259.7 C465.1 260.2 466.5 261.4 467.9 262.5 C469.3 263.6 470.3 264.9 469.5 266.5 C468.7 268.1 465.7 270.5 463.0 272.0 C460.3 273.5 457.4 274.5 453.2 275.3 C449.0 276.1 444.8 275.7 438.0 276.8 C431.2 277.9 418.9 280.4 412.2 281.8 C405.5 283.2 404.4 284.1 398.0 285.4 C391.6 286.7 381.7 288.1 374.1 289.7 C366.5 291.3 359.8 293.9 352.6 295.1 C345.4 296.3 338.2 297.0 331.0 296.8 C323.8 296.6 315.9 295.1 309.5 294.0 C303.1 292.9 295.3 290.9 292.5 290.3 L285.0 290.3 L285.0 256.5 Z" fill="#d7f0d6"/>
<path d="M308.0 210.0 C307.2 209.5 310.5 208.4 311.5 207.8 C312.5 207.2 312.9 206.4 314.0 206.3 C315.1 206.2 316.3 206.8 318.0 207.4 C319.7 208.0 324.3 209.5 324.0 210.0 C323.7 210.5 318.7 210.6 316.0 210.6 C313.3 210.6 308.8 210.5 308.0 210.0 Z" fill="#ffffff"/>
<path d="M297.7 274.7 C297.7 272.9 297.1 269.6 300.9 268.2 C304.7 266.8 312.8 266.1 320.3 266.1 C327.8 266.1 340.0 266.8 346.1 268.2 C352.2 269.6 356.5 272.7 356.9 274.7 C357.3 276.7 352.6 278.7 348.3 280.1 C344.0 281.5 337.1 282.9 331.0 283.3 C324.9 283.7 316.7 283.3 311.7 282.6 C306.7 281.9 303.2 280.3 300.9 279.0 C298.6 277.7 297.7 276.5 297.7 274.7 Z" fill="#ffffff"/>
<path d="M292.5 300.5 C293.0 300.8 293.4 301.1 295.5 302.0 C297.6 302.9 301.8 303.8 305.2 305.9 C308.6 308.0 313.1 311.6 316.0 314.5 C318.9 317.4 319.9 320.6 322.4 323.1 C324.9 325.6 327.1 327.8 331.0 329.5 C334.9 331.2 340.7 332.4 346.1 333.4 C351.5 334.4 359.0 334.4 363.3 335.5 C367.6 336.6 370.6 339.2 372.0 340.0 L285.0 345.0 L285.0 300.5 Z" fill="#8ed78b"/>
<path d="M292.5 313.4 C293.9 314.6 298.1 318.6 300.9 320.9 C303.7 323.2 307.5 325.6 309.5 327.4 C311.5 329.2 310.9 330.3 313.0 331.7 C315.1 333.1 320.4 334.6 322.4 336.0 C324.4 337.4 324.6 339.3 325.0 340.0 L285.0 345.0 L285.0 313.4 Z" fill="#6ec86e"/>
<path d="M292.5 323.0 C293.2 323.7 295.2 325.9 296.6 327.4 C298.0 328.9 299.5 330.7 300.9 332.1 C302.3 333.5 304.3 334.7 305.2 336.0 C306.1 337.3 306.3 339.3 306.5 340.0 L285.0 345.0 L285.0 323.0 Z" fill="#52b852"/>
<path d="M369.0 340.0 C369.0 338.3 368.7 332.4 369.0 330.0 C369.3 327.6 369.4 326.6 371.0 325.5 C372.6 324.4 372.6 324.0 378.7 323.6 C384.8 323.2 398.1 322.8 407.8 322.9 C417.5 323.0 427.8 323.4 436.9 324.5 C446.0 325.6 456.7 327.8 462.7 329.4 C468.7 331.0 470.4 332.2 473.0 334.0 C475.6 335.8 477.2 339.0 478.0 340.0 Z" fill="#d7f0d6"/>
<path d="M292.5 217.8 C295.3 218.0 303.1 218.8 309.5 218.8 C315.9 218.8 323.8 218.2 331.0 217.6 C338.2 217.0 345.4 216.1 352.6 215.5 C359.8 214.9 366.5 214.3 374.1 214.0 C381.7 213.7 391.3 213.3 398.0 213.4 C404.7 213.5 407.7 214.3 414.4 214.7 C421.1 215.0 428.8 215.4 438.0 215.5 C447.2 215.6 462.1 215.9 469.5 215.5 C476.9 215.1 479.7 214.2 482.6 213.1 C485.5 212.0 486.6 210.4 486.7 209.0 C486.8 207.6 483.9 206.0 483.0 204.5 C482.1 203.0 481.3 200.8 481.0 200.0" fill="none" stroke="#2f7a32" stroke-opacity="0.55" stroke-width="0.55"/>
<path d="M292.5 226.3 C293.9 227.0 297.3 229.1 300.9 230.2 C304.4 231.3 309.5 232.6 313.8 232.8 C318.1 233.0 322.1 232.2 326.8 231.3 C331.5 230.4 337.5 228.5 341.8 227.6 C346.1 226.7 347.2 226.6 352.6 225.9 C358.0 225.2 366.5 224.2 374.1 223.7 C381.7 223.1 391.6 222.5 398.0 222.6 C404.4 222.7 405.5 223.5 412.2 224.1 C418.9 224.7 429.8 225.0 438.0 225.9 C446.2 226.8 455.4 229.1 461.3 229.5 C467.2 229.9 469.5 229.6 473.6 228.6 C477.7 227.6 482.5 225.3 485.9 223.7 C489.3 222.1 491.1 220.3 494.0 218.8 C496.9 217.3 501.5 215.2 503.0 214.5" fill="none" stroke="#2f7a32" stroke-opacity="0.55" stroke-width="0.55"/>
<path d="M499.0 340.0 C498.9 339.3 499.9 337.4 498.3 336.0 C496.8 334.6 492.6 333.1 489.7 331.7 C486.8 330.3 486.1 329.0 481.1 327.4 C476.1 325.8 467.3 323.9 459.6 322.0 C451.9 320.1 442.0 318.0 434.8 316.2 C427.6 314.4 421.8 312.9 416.5 311.2 C411.2 309.5 405.2 306.9 403.0 306.0" fill="none" stroke="#2f7a32" stroke-opacity="0.55" stroke-width="0.55"/>
<path d="M403.0 306.0 C402.8 305.8 401.3 305.4 401.5 304.8 C401.7 304.2 400.8 303.9 404.0 302.5 C407.2 301.1 413.3 298.9 420.8 296.2 C428.3 293.5 442.1 288.4 448.8 286.5 C455.6 284.6 456.5 286.0 461.3 285.1 C466.1 284.2 473.1 282.4 477.7 281.0 C482.3 279.6 486.1 278.7 489.1 276.9 C492.1 275.1 494.2 272.8 495.7 270.4 C497.2 267.9 498.1 264.9 498.1 262.2 C498.1 259.5 497.5 256.4 495.7 254.0 C493.9 251.6 490.8 249.4 487.5 247.5 C484.2 245.6 480.5 244.1 476.1 242.6 C471.7 241.1 466.5 238.9 461.3 238.5 C456.1 238.1 452.5 239.0 445.0 240.1 C437.5 241.2 424.3 243.9 416.5 244.8 C408.7 245.7 405.1 245.6 398.0 245.7 C390.9 245.8 381.0 245.6 374.1 245.3 C367.2 245.0 364.1 245.1 356.9 243.8 C349.7 242.5 338.2 239.0 331.0 237.7 C323.8 236.4 319.4 235.7 313.8 236.2 C308.2 236.7 301.2 239.3 297.7 240.5 C294.1 241.7 293.4 242.7 292.5 243.1" fill="none" stroke="#2f7a32" stroke-opacity="0.55" stroke-width="0.55"/>
<path d="M503.0 285.2 C502.6 285.2 503.8 284.8 500.5 285.4 C497.2 285.9 488.0 287.2 483.0 288.5 C478.0 289.8 473.9 291.5 470.3 293.0 C466.8 294.5 463.9 295.5 461.7 297.3 C459.5 299.1 457.5 302.2 457.4 304.0 C457.3 305.8 458.9 306.8 461.0 308.0 C463.1 309.2 466.2 308.9 470.3 311.2 C474.4 313.5 482.1 319.6 485.4 322.0 C488.7 324.4 487.5 324.2 490.0 325.5 C492.5 326.8 498.3 328.8 500.5 329.5 C502.7 330.2 502.6 329.9 503.0 330.0" fill="none" stroke="#2f7a32" stroke-opacity="0.55" stroke-width="0.55"/>
<path d="M503.0 290.0 C502.6 290.1 502.7 289.9 500.5 290.8 C498.3 291.7 492.2 293.0 489.7 295.1 C487.2 297.2 485.9 301.1 485.4 303.7 C484.9 306.3 485.4 308.7 486.5 311.0 C487.6 313.3 489.6 315.9 491.9 317.7 C494.2 319.5 498.6 321.2 500.5 322.0 C502.4 322.8 502.6 322.4 503.0 322.5" fill="none" stroke="#2f7a32" stroke-opacity="0.55" stroke-width="0.55"/>
<path d="M292.5 256.5 C295.3 256.0 302.7 254.0 309.5 253.4 C316.3 252.8 326.0 252.5 333.2 252.8 C340.4 253.1 345.8 254.2 352.6 255.0 C359.4 255.8 367.5 257.1 374.1 257.8 C380.7 258.5 384.8 259.0 392.4 259.3 C400.0 259.6 411.2 259.5 420.0 259.6 C428.8 259.7 438.1 259.7 445.0 259.7 C451.9 259.7 457.5 259.2 461.3 259.7 C465.1 260.2 466.5 261.4 467.9 262.5 C469.3 263.6 470.3 264.9 469.5 266.5 C468.7 268.1 465.7 270.5 463.0 272.0 C460.3 273.5 457.4 274.5 453.2 275.3 C449.0 276.1 444.8 275.7 438.0 276.8 C431.2 277.9 418.9 280.4 412.2 281.8 C405.5 283.2 404.4 284.1 398.0 285.4 C391.6 286.7 381.7 288.1 374.1 289.7 C366.5 291.3 359.8 293.9 352.6 295.1 C345.4 296.3 338.2 297.0 331.0 296.8 C323.8 296.6 315.9 295.1 309.5 294.0 C303.1 292.9 295.3 290.9 292.5 290.3" fill="none" stroke="#2f7a32" stroke-opacity="0.55" stroke-width="0.55"/>
<path d="M292.5 300.5 C293.0 300.8 293.4 301.1 295.5 302.0 C297.6 302.9 301.8 303.8 305.2 305.9 C308.6 308.0 313.1 311.6 316.0 314.5 C318.9 317.4 319.9 320.6 322.4 323.1 C324.9 325.6 327.1 327.8 331.0 329.5 C334.9 331.2 340.7 332.4 346.1 333.4 C351.5 334.4 359.0 334.4 363.3 335.5 C367.6 336.6 370.6 339.2 372.0 340.0" fill="none" stroke="#2f7a32" stroke-opacity="0.55" stroke-width="0.55"/>
<path d="M292.5 313.4 C293.9 314.6 298.1 318.6 300.9 320.9 C303.7 323.2 307.5 325.6 309.5 327.4 C311.5 329.2 310.9 330.3 313.0 331.7 C315.1 333.1 320.4 334.6 322.4 336.0 C324.4 337.4 324.6 339.3 325.0 340.0" fill="none" stroke="#2f7a32" stroke-opacity="0.55" stroke-width="0.55"/>
<path d="M292.5 323.0 C293.2 323.7 295.2 325.9 296.6 327.4 C298.0 328.9 299.5 330.7 300.9 332.1 C302.3 333.5 304.3 334.7 305.2 336.0 C306.1 337.3 306.3 339.3 306.5 340.0" fill="none" stroke="#2f7a32" stroke-opacity="0.55" stroke-width="0.55"/>
<path d="M369.0 340.0 C369.0 338.3 368.7 332.4 369.0 330.0 C369.3 327.6 369.4 326.6 371.0 325.5 C372.6 324.4 372.6 324.0 378.7 323.6 C384.8 323.2 398.1 322.8 407.8 322.9 C417.5 323.0 427.8 323.4 436.9 324.5 C446.0 325.6 456.7 327.8 462.7 329.4 C468.7 331.0 470.4 332.2 473.0 334.0 C475.6 335.8 477.2 339.0 478.0 340.0" fill="none" stroke="#2f7a32" stroke-opacity="0.55" stroke-width="0.55"/>
<path d="M308.0 210.0 C307.2 209.5 310.5 208.4 311.5 207.8 C312.5 207.2 312.9 206.4 314.0 206.3 C315.1 206.2 316.3 206.8 318.0 207.4 C319.7 208.0 324.3 209.5 324.0 210.0 C323.7 210.5 318.7 210.6 316.0 210.6 C313.3 210.6 308.8 210.5 308.0 210.0 Z" fill="none" stroke="#2f7a32" stroke-opacity="0.55" stroke-width="0.55"/>
<path d="M297.7 274.7 C297.7 272.9 297.1 269.6 300.9 268.2 C304.7 266.8 312.8 266.1 320.3 266.1 C327.8 266.1 340.0 266.8 346.1 268.2 C352.2 269.6 356.5 272.7 356.9 274.7 C357.3 276.7 352.6 278.7 348.3 280.1 C344.0 281.5 337.1 282.9 331.0 283.3 C324.9 283.7 316.7 283.3 311.7 282.6 C306.7 281.9 303.2 280.3 300.9 279.0 C298.6 277.7 297.7 276.5 297.7 274.7 Z" fill="none" stroke="#2f7a32" stroke-opacity="0.55" stroke-width="0.55"/>
</g>
<line x1="292.5" y1="204.0" x2="501.8" y2="204.0" stroke="#8a8a8a" stroke-width="0.6"/>
<line x1="292.5" y1="203.7" x2="292.5" y2="338.0" stroke="#666" stroke-width="0.6"/>
<line x1="292.1" y1="337.6" x2="502.1" y2="337.6" stroke="#666" stroke-width="0.75"/>
<line x1="292.5" y1="337.6" x2="292.5" y2="339.8" stroke="#555" stroke-width="0.5"/>
<line x1="292.5" y1="337.6" x2="290.3" y2="337.6" stroke="#555" stroke-width="0.5"/>
<text x="292.5" y="345.7" font-size="4.3" text-anchor="middle" fill="#1a1a1a" stroke="#1a1a1a" stroke-width="0.12" font-family="Liberation Sans, sans-serif">0</text>
<text x="288.0" y="339.2" font-size="4.3" text-anchor="end" fill="#1a1a1a" stroke="#1a1a1a" stroke-width="0.12" font-family="Liberation Sans, sans-serif">0</text>
<line x1="303.0" y1="337.6" x2="303.0" y2="338.9" stroke="#555" stroke-width="0.5"/>
<line x1="292.5" y1="330.9" x2="291.2" y2="330.9" stroke="#555" stroke-width="0.5"/>
<line x1="313.4" y1="337.6" x2="313.4" y2="339.8" stroke="#555" stroke-width="0.5"/>
<line x1="292.5" y1="324.2" x2="290.3" y2="324.2" stroke="#555" stroke-width="0.5"/>
<text x="313.4" y="345.7" font-size="4.3" text-anchor="middle" fill="#1a1a1a" stroke="#1a1a1a" stroke-width="0.12" font-family="Liberation Sans, sans-serif">2</text>
<text x="288.0" y="325.8" font-size="4.3" text-anchor="end" fill="#1a1a1a" stroke="#1a1a1a" stroke-width="0.12" font-family="Liberation Sans, sans-serif">2</text>
<line x1="323.9" y1="337.6" x2="323.9" y2="338.9" stroke="#555" stroke-width="0.5"/>
<line x1="292.5" y1="317.6" x2="291.2" y2="317.6" stroke="#555" stroke-width="0.5"/>
<line x1="334.4" y1="337.6" x2="334.4" y2="339.8" stroke="#555" stroke-width="0.5"/>
<line x1="292.5" y1="310.9" x2="290.3" y2="310.9" stroke="#555" stroke-width="0.5"/>
<text x="334.4" y="345.7" font-size="4.3" text-anchor="middle" fill="#1a1a1a" stroke="#1a1a1a" stroke-width="0.12" font-family="Liberation Sans, sans-serif">4</text>
<text x="288.0" y="312.5" font-size="4.3" text-anchor="end" fill="#1a1a1a" stroke="#1a1a1a" stroke-width="0.12" font-family="Liberation Sans, sans-serif">4</text>
<line x1="344.8" y1="337.6" x2="344.8" y2="338.9" stroke="#555" stroke-width="0.5"/>
<line x1="292.5" y1="304.2" x2="291.2" y2="304.2" stroke="#555" stroke-width="0.5"/>
<line x1="355.3" y1="337.6" x2="355.3" y2="339.8" stroke="#555" stroke-width="0.5"/>
<line x1="292.5" y1="297.5" x2="290.3" y2="297.5" stroke="#555" stroke-width="0.5"/>
<text x="355.3" y="345.7" font-size="4.3" text-anchor="middle" fill="#1a1a1a" stroke="#1a1a1a" stroke-width="0.12" font-family="Liberation Sans, sans-serif">6</text>
<text x="288.0" y="299.1" font-size="4.3" text-anchor="end" fill="#1a1a1a" stroke="#1a1a1a" stroke-width="0.12" font-family="Liberation Sans, sans-serif">6</text>
<line x1="365.8" y1="337.6" x2="365.8" y2="338.9" stroke="#555" stroke-width="0.5"/>
<line x1="292.5" y1="290.8" x2="291.2" y2="290.8" stroke="#555" stroke-width="0.5"/>
<line x1="376.2" y1="337.6" x2="376.2" y2="339.8" stroke="#555" stroke-width="0.5"/>
<line x1="292.5" y1="284.2" x2="290.3" y2="284.2" stroke="#555" stroke-width="0.5"/>
<text x="376.2" y="345.7" font-size="4.3" text-anchor="middle" fill="#1a1a1a" stroke="#1a1a1a" stroke-width="0.12" font-family="Liberation Sans, sans-serif">8</text>
<text x="288.0" y="285.8" font-size="4.3" text-anchor="end" fill="#1a1a1a" stroke="#1a1a1a" stroke-width="0.12" font-family="Liberation Sans, sans-serif">8</text>
<line x1="386.7" y1="337.6" x2="386.7" y2="338.9" stroke="#555" stroke-width="0.5"/>
<line x1="292.5" y1="277.5" x2="291.2" y2="277.5" stroke="#555" stroke-width="0.5"/>
<line x1="397.1" y1="337.6" x2="397.1" y2="339.8" stroke="#555" stroke-width="0.5"/>
<line x1="292.5" y1="270.8" x2="290.3" y2="270.8" stroke="#555" stroke-width="0.5"/>
<text x="397.1" y="345.7" font-size="4.3" text-anchor="middle" fill="#1a1a1a" stroke="#1a1a1a" stroke-width="0.12" font-family="Liberation Sans, sans-serif">10</text>
<text x="288.0" y="272.4" font-size="4.3" text-anchor="end" fill="#1a1a1a" stroke="#1a1a1a" stroke-width="0.12" font-family="Liberation Sans, sans-serif">10</text>
<line x1="407.6" y1="337.6" x2="407.6" y2="338.9" stroke="#555" stroke-width="0.5"/>
<line x1="292.5" y1="264.1" x2="291.2" y2="264.1" stroke="#555" stroke-width="0.5"/>
<line x1="418.1" y1="337.6" x2="418.1" y2="339.8" stroke="#555" stroke-width="0.5"/>
<line x1="292.5" y1="257.4" x2="290.3" y2="257.4" stroke="#555" stroke-width="0.5"/>
<text x="418.1" y="345.7" font-size="4.3" text-anchor="middle" fill="#1a1a1a" stroke="#1a1a1a" stroke-width="0.12" font-family="Liberation Sans, sans-serif">12</text>
<text x="288.0" y="259.0" font-size="4.3" text-anchor="end" fill="#1a1a1a" stroke="#1a1a1a" stroke-width="0.12" font-family="Liberation Sans, sans-serif">12</text>
<line x1="428.5" y1="337.6" x2="428.5" y2="338.9" stroke="#555" stroke-width="0.5"/>
<line x1="292.5" y1="250.8" x2="291.2" y2="250.8" stroke="#555" stroke-width="0.5"/>
<line x1="439.0" y1="337.6" x2="439.0" y2="339.8" stroke="#555" stroke-width="0.5"/>
<line x1="292.5" y1="244.1" x2="290.3" y2="244.1" stroke="#555" stroke-width="0.5"/>
<text x="439.0" y="345.7" font-size="4.3" text-anchor="middle" fill="#1a1a1a" stroke="#1a1a1a" stroke-width="0.12" font-family="Liberation Sans, sans-serif">14</text>
<text x="288.0" y="245.7" font-size="4.3" text-anchor="end" fill="#1a1a1a" stroke="#1a1a1a" stroke-width="0.12" font-family="Liberation Sans, sans-serif">14</text>
<line x1="449.5" y1="337.6" x2="449.5" y2="338.9" stroke="#555" stroke-width="0.5"/>
<line x1="292.5" y1="237.4" x2="291.2" y2="237.4" stroke="#555" stroke-width="0.5"/>
<line x1="459.9" y1="337.6" x2="459.9" y2="339.8" stroke="#555" stroke-width="0.5"/>
<line x1="292.5" y1="230.7" x2="290.3" y2="230.7" stroke="#555" stroke-width="0.5"/>
<text x="459.9" y="345.7" font-size="4.3" text-anchor="middle" fill="#1a1a1a" stroke="#1a1a1a" stroke-width="0.12" font-family="Liberation Sans, sans-serif">16</text>
<text x="288.0" y="232.3" font-size="4.3" text-anchor="end" fill="#1a1a1a" stroke="#1a1a1a" stroke-width="0.12" font-family="Liberation Sans, sans-serif">16</text>
<line x1="470.4" y1="337.6" x2="470.4" y2="338.9" stroke="#555" stroke-width="0.5"/>
<line x1="292.5" y1="224.0" x2="291.2" y2="224.0" stroke="#555" stroke-width="0.5"/>
<line x1="480.9" y1="337.6" x2="480.9" y2="339.8" stroke="#555" stroke-width="0.5"/>
<line x1="292.5" y1="217.4" x2="290.3" y2="217.4" stroke="#555" stroke-width="0.5"/>
<text x="480.9" y="345.7" font-size="4.3" text-anchor="middle" fill="#1a1a1a" stroke="#1a1a1a" stroke-width="0.12" font-family="Liberation Sans, sans-serif">18</text>
<text x="288.0" y="219.0" font-size="4.3" text-anchor="end" fill="#1a1a1a" stroke="#1a1a1a" stroke-width="0.12" font-family="Liberation Sans, sans-serif">18</text>
<line x1="491.3" y1="337.6" x2="491.3" y2="338.9" stroke="#555" stroke-width="0.5"/>
<line x1="292.5" y1="210.7" x2="291.2" y2="210.7" stroke="#555" stroke-width="0.5"/>
<line x1="501.8" y1="337.6" x2="501.8" y2="339.8" stroke="#555" stroke-width="0.5"/>
<line x1="292.5" y1="204.0" x2="290.3" y2="204.0" stroke="#555" stroke-width="0.5"/>
<text x="501.8" y="345.7" font-size="4.3" text-anchor="middle" fill="#1a1a1a" stroke="#1a1a1a" stroke-width="0.12" font-family="Liberation Sans, sans-serif">20</text>
<text x="288.0" y="205.6" font-size="4.3" text-anchor="end" fill="#1a1a1a" stroke="#1a1a1a" stroke-width="0.12" font-family="Liberation Sans, sans-serif">20</text>
<rect x="304.6" y="207.1" width="3.8" height="6.3" fill="#fff"/>
<text x="306.5" y="212.1" font-size="5" text-anchor="middle" fill="#111" font-family="Liberation Sans, sans-serif">3</text>
<rect x="348.0" y="212.1" width="7.9" height="6.3" fill="#fff"/>
<text x="352.0" y="217.1" font-size="5" text-anchor="middle" fill="#111" font-family="Liberation Sans, sans-serif">3.5</text>
<rect x="410.0" y="210.6" width="7.9" height="6.3" fill="#fff"/>
<text x="414.0" y="215.6" font-size="5" text-anchor="middle" fill="#111" font-family="Liberation Sans, sans-serif">3.5</text>
<rect x="468.0" y="211.6" width="7.9" height="6.3" fill="#fff"/>
<text x="472.0" y="216.6" font-size="5" text-anchor="middle" fill="#111" font-family="Liberation Sans, sans-serif">3.5</text>
<rect x="291.0" y="214.1" width="7.9" height="6.3" fill="#fff"/>
<text x="295.0" y="219.1" font-size="5" text-anchor="middle" fill="#111" font-family="Liberation Sans, sans-serif">3.5</text>
<rect x="350.1" y="222.6" width="3.8" height="6.3" fill="#fff"/>
<text x="352.0" y="227.6" font-size="5" text-anchor="middle" fill="#111" font-family="Liberation Sans, sans-serif">4</text>
<rect x="411.6" y="221.1" width="3.8" height="6.3" fill="#fff"/>
<text x="413.5" y="226.1" font-size="5" text-anchor="middle" fill="#111" font-family="Liberation Sans, sans-serif">4</text>
<rect x="471.6" y="225.1" width="3.8" height="6.3" fill="#fff"/>
<text x="473.5" y="230.1" font-size="5" text-anchor="middle" fill="#111" font-family="Liberation Sans, sans-serif">4</text>
<rect x="292.6" y="225.1" width="3.8" height="6.3" fill="#fff"/>
<text x="294.5" y="230.1" font-size="5" text-anchor="middle" fill="#111" font-family="Liberation Sans, sans-serif">4</text>
<rect x="296.1" y="237.6" width="3.8" height="6.3" fill="#fff"/>
<text x="298.0" y="242.6" font-size="5" text-anchor="middle" fill="#111" font-family="Liberation Sans, sans-serif">4</text>
<rect x="355.1" y="240.6" width="3.8" height="6.3" fill="#fff"/>
<text x="357.0" y="245.6" font-size="5" text-anchor="middle" fill="#111" font-family="Liberation Sans, sans-serif">4</text>
<rect x="415.1" y="241.6" width="3.8" height="6.3" fill="#fff"/>
<text x="417.0" y="246.6" font-size="5" text-anchor="middle" fill="#111" font-family="Liberation Sans, sans-serif">4</text>
<rect x="474.6" y="239.6" width="3.8" height="6.3" fill="#fff"/>
<text x="476.5" y="244.6" font-size="5" text-anchor="middle" fill="#111" font-family="Liberation Sans, sans-serif">4</text>
<rect x="329.5" y="249.6" width="7.9" height="6.3" fill="#fff"/>
<text x="333.5" y="254.6" font-size="5" text-anchor="middle" fill="#111" font-family="Liberation Sans, sans-serif">3.5</text>
<rect x="388.5" y="255.6" width="7.9" height="6.3" fill="#fff"/>
<text x="392.5" y="260.6" font-size="5" text-anchor="middle" fill="#111" font-family="Liberation Sans, sans-serif">3.5</text>
<rect x="447.0" y="255.1" width="7.9" height="6.3" fill="#fff"/>
<text x="451.0" y="260.1" font-size="5" text-anchor="middle" fill="#111" font-family="Liberation Sans, sans-serif">3.5</text>
<rect x="296.6" y="272.1" width="3.8" height="6.3" fill="#fff"/>
<text x="298.5" y="277.1" font-size="5" text-anchor="middle" fill="#111" font-family="Liberation Sans, sans-serif">3</text>
<rect x="343.6" y="265.6" width="3.8" height="6.3" fill="#fff"/>
<text x="345.5" y="270.6" font-size="5" text-anchor="middle" fill="#111" font-family="Liberation Sans, sans-serif">3</text>
<rect x="309.1" y="279.6" width="3.8" height="6.3" fill="#fff"/>
<text x="311.0" y="284.6" font-size="5" text-anchor="middle" fill="#111" font-family="Liberation Sans, sans-serif">3</text>
<rect x="408.5" y="278.6" width="7.9" height="6.3" fill="#fff"/>
<text x="412.5" y="283.6" font-size="5" text-anchor="middle" fill="#111" font-family="Liberation Sans, sans-serif">3.5</text>
<rect x="291.0" y="287.1" width="7.9" height="6.3" fill="#fff"/>
<text x="295.0" y="292.1" font-size="5" text-anchor="middle" fill="#111" font-family="Liberation Sans, sans-serif">3.5</text>
<rect x="471.1" y="278.6" width="3.8" height="6.3" fill="#fff"/>
<text x="473.0" y="283.6" font-size="5" text-anchor="middle" fill="#111" font-family="Liberation Sans, sans-serif">4</text>
<rect x="293.1" y="298.6" width="3.8" height="6.3" fill="#fff"/>
<text x="295.0" y="303.6" font-size="5" text-anchor="middle" fill="#111" font-family="Liberation Sans, sans-serif">4</text>
<rect x="350.0" y="291.1" width="7.9" height="6.3" fill="#fff"/>
<text x="354.0" y="296.1" font-size="5" text-anchor="middle" fill="#111" font-family="Liberation Sans, sans-serif">3.5</text>
<rect x="417.6" y="293.6" width="3.8" height="6.3" fill="#fff"/>
<text x="419.5" y="298.6" font-size="5" text-anchor="middle" fill="#111" font-family="Liberation Sans, sans-serif">4</text>
<rect x="460.0" y="293.6" width="7.9" height="6.3" fill="#fff"/>
<text x="464.0" y="298.6" font-size="5" text-anchor="middle" fill="#111" font-family="Liberation Sans, sans-serif">4.5</text>
<rect x="433.6" y="312.1" width="3.8" height="6.3" fill="#fff"/>
<text x="435.5" y="317.1" font-size="5" text-anchor="middle" fill="#111" font-family="Liberation Sans, sans-serif">4</text>
<rect x="490.6" y="314.6" width="3.8" height="6.3" fill="#fff"/>
<text x="492.5" y="319.6" font-size="5" text-anchor="middle" fill="#111" font-family="Liberation Sans, sans-serif">5</text>
<rect x="404.5" y="321.1" width="7.9" height="6.3" fill="#fff"/>
<text x="408.5" y="326.1" font-size="5" text-anchor="middle" fill="#111" font-family="Liberation Sans, sans-serif">3.5</text>
<rect x="483.5" y="322.1" width="7.9" height="6.3" fill="#fff"/>
<text x="487.5" y="327.1" font-size="5" text-anchor="middle" fill="#111" font-family="Liberation Sans, sans-serif">4.5</text>
<rect x="299.6" y="327.6" width="3.8" height="6.3" fill="#fff"/>
<text x="301.5" y="332.6" font-size="5" text-anchor="middle" fill="#111" font-family="Liberation Sans, sans-serif">5</text>
<rect x="308.5" y="327.6" width="7.9" height="6.3" fill="#fff"/>
<text x="312.5" y="332.6" font-size="5" text-anchor="middle" fill="#111" font-family="Liberation Sans, sans-serif">4.5</text>
<rect x="343.6" y="330.6" width="3.8" height="6.3" fill="#fff"/>
<text x="345.5" y="335.6" font-size="5" text-anchor="middle" fill="#111" font-family="Liberation Sans, sans-serif">4</text>
<rect x="366.5" y="328.1" width="7.9" height="6.3" fill="#fff"/>
<text x="370.5" y="333.1" font-size="5" text-anchor="middle" fill="#111" font-family="Liberation Sans, sans-serif">3.5</text>
<rect x="488.1" y="329.1" width="3.8" height="6.3" fill="#fff"/>
<text x="490.0" y="334.1" font-size="5" text-anchor="middle" fill="#111" font-family="Liberation Sans, sans-serif">4</text>
<text x="312.6" y="196.4" font-size="7.66" word-spacing="0.3" fill="#1a1a1a" stroke="#1a1a1a" stroke-width="0.08" font-family="Liberation Sans, sans-serif">Standard Error MMP9 Contour Plot (Time = 24 h)</text>
<text x="265.8" y="194.2" font-size="12" fill="#111" font-family="Liberation Sans, sans-serif">(D)</text>
<text x="370.2" y="357.6" font-size="7.9" fill="#1a1a1a" stroke="#1a1a1a" stroke-width="0.08" textLength="46.3" lengthAdjust="spacingAndGlyphs" font-family="Liberation Sans, sans-serif">IL-1β (ng/mL)</text>
<text x="0" y="0" font-size="8.1" fill="#1a1a1a" stroke="#1a1a1a" stroke-width="0.08" text-anchor="middle" transform="translate(277.4 270.0) rotate(-90)" font-family="Liberation Sans, sans-serif">TNFα (ng/mL)</text>
<g clip-path="url(#clipE)">
<rect x="29.5" y="386.0" width="208.1" height="139.4" fill="#feebb4"/>
<path d="M37.5 384.0 C37.4 384.3 37.9 384.1 36.9 386.0 C35.9 387.9 32.7 393.6 31.5 395.7 C30.3 397.8 30.2 397.8 29.5 398.5 C28.8 399.2 27.4 399.8 27.0 400.0 L20.0 400.0 L20.0 464.0 L25.0 464.0 C25.8 464.2 27.7 464.7 29.5 465.5 C31.3 466.3 33.0 467.4 35.8 468.7 C38.6 470.0 41.6 471.2 46.5 473.4 C51.4 475.5 57.8 479.2 65.3 481.6 C72.8 484.0 82.7 486.5 91.8 487.8 C100.9 489.1 110.0 489.5 120.0 489.5 C129.9 489.5 142.2 489.1 151.5 487.8 C160.8 486.5 169.0 483.7 175.6 481.9 C182.2 480.1 185.6 478.6 191.3 477.2 C197.1 475.8 202.0 474.8 210.1 473.3 C218.2 471.8 235.0 469.1 240.0 468.3 L250.0 468.3 L250.0 380.0 L37.5 380.0 Z" fill="#fee696"/>
<path d="M47.0 384.0 C46.8 384.3 47.2 384.3 46.0 386.0 C44.8 387.7 41.7 391.5 40.0 394.0 C38.3 396.5 37.8 399.1 36.0 401.2 C34.2 403.3 31.0 405.5 29.5 406.6 C28.0 407.7 27.4 407.8 27.0 408.0 L20.0 408.0 L20.0 449.5 L25.0 449.5 C25.8 449.6 27.7 449.4 29.5 450.3 C31.3 451.2 32.0 453.0 36.0 454.8 C40.0 456.6 45.0 458.9 53.3 461.2 C61.6 463.5 78.5 466.5 86.0 468.5 C93.5 470.5 91.2 471.8 98.5 473.0 C105.8 474.2 120.0 475.8 130.0 476.0 C139.9 476.2 148.2 475.4 158.2 474.0 C168.2 472.6 179.9 469.7 190.0 467.5 C200.1 465.3 210.5 462.9 218.8 460.8 C227.1 458.7 236.5 455.7 240.0 454.7 L250.0 454.7 L250.0 380.0 L47.0 380.0 Z" fill="#fee27d"/>
<path d="M240.0 392.4 C237.1 392.1 228.5 391.2 222.6 390.8 C216.7 390.4 211.1 390.2 204.6 390.0 C198.1 389.8 192.6 389.4 183.5 389.3 C174.4 389.2 163.9 388.9 150.0 389.5 C136.1 390.1 112.8 391.6 100.3 392.8 C87.8 394.0 81.7 395.1 75.0 396.5 C68.3 397.9 64.5 399.4 60.0 401.0 C55.5 402.6 51.6 404.2 47.8 406.3 C43.9 408.4 39.3 410.5 36.9 413.9 C34.5 417.3 33.3 422.7 33.3 426.6 C33.3 430.5 33.9 434.0 36.9 437.5 C39.9 441.0 45.3 444.8 51.1 447.5 C56.9 450.2 65.7 452.4 71.5 453.9 C77.3 455.4 79.5 455.2 86.0 456.6 C92.5 458.0 102.3 461.0 110.5 462.5 C118.7 464.0 125.2 465.6 135.0 465.4 C144.8 465.2 158.2 463.0 169.0 461.4 C179.8 459.8 190.3 457.8 200.0 455.5 C209.7 453.2 220.6 448.7 227.3 447.5 C234.0 446.3 237.9 448.3 240.0 448.5 L250.0 448.5 L250.0 392.4 Z" fill="#fede64"/>
<path d="M240.0 402.6 C237.1 402.1 229.4 400.4 222.6 399.4 C215.8 398.3 207.4 397.0 199.1 396.3 C190.8 395.6 183.2 395.3 172.5 395.2 C161.8 395.1 145.2 395.0 135.0 395.5 C124.8 396.0 120.5 397.0 111.1 398.1 C101.7 399.2 86.3 400.6 78.8 402.2 C71.3 403.8 69.2 405.5 66.0 408.0 C62.8 410.5 60.8 414.2 59.4 417.0 C58.0 419.8 57.5 422.3 57.8 424.8 C58.1 427.3 59.6 429.9 61.0 432.0 C62.4 434.1 63.0 435.8 66.0 437.5 C69.0 439.2 73.3 440.5 78.8 442.5 C84.3 444.5 89.6 447.5 99.0 449.3 C108.4 451.1 124.7 453.0 135.0 453.3 C145.3 453.6 151.7 452.6 160.9 451.4 C170.1 450.2 182.3 447.9 190.0 446.0 C197.7 444.1 201.3 441.6 207.0 440.0 C212.7 438.4 218.7 435.8 224.2 436.2 C229.7 436.6 237.4 441.4 240.0 442.5 L250.0 442.5 L250.0 402.6 Z" fill="#fed84b"/>
<path d="M96.3 422.4 C96.3 419.4 99.8 415.2 102.0 413.0 C104.2 410.8 104.2 410.4 109.7 409.0 C115.2 407.6 126.6 405.7 135.0 404.9 C143.4 404.1 153.5 404.1 160.0 404.1 C166.5 404.1 168.9 404.3 174.1 404.7 C179.3 405.1 186.1 405.4 191.3 406.5 C196.5 407.6 201.9 409.2 205.4 411.2 C208.9 413.1 212.2 415.7 212.5 418.2 C212.8 420.7 209.5 424.2 207.0 426.0 C204.5 427.8 201.5 428.0 197.6 429.2 C193.7 430.4 189.8 431.7 183.5 433.1 C177.2 434.5 168.1 436.9 160.0 437.8 C151.9 438.8 142.5 438.9 135.0 438.8 C127.5 438.7 120.5 438.3 115.0 437.0 C109.5 435.7 105.1 433.4 102.0 431.0 C98.9 428.6 96.3 425.4 96.3 422.4 Z" fill="#fed434"/>
<path d="M38.0 527.0 C40.0 526.2 45.2 523.5 50.0 522.5 C54.8 521.5 61.1 521.1 67.0 520.7 C72.9 520.3 78.2 520.1 85.4 520.0 C92.6 519.9 99.4 520.0 110.0 520.3 C120.6 520.6 139.1 521.2 149.0 521.8 C158.9 522.3 164.9 522.7 169.4 523.6 C173.9 524.5 174.9 526.4 176.0 527.0 Z" fill="#fee696"/>
<path d="M25.0 481.0 C25.8 481.0 26.8 479.9 29.5 481.0 C32.2 482.1 37.1 485.4 41.1 487.8 C45.1 490.2 50.0 492.6 53.4 495.3 C56.8 498.0 61.6 501.3 61.6 504.2 C61.6 507.1 56.8 510.3 53.4 512.5 C50.0 514.7 44.4 516.0 41.1 517.3 C37.8 518.5 35.4 519.3 33.5 520.0 C31.6 520.7 30.9 521.2 29.5 521.4 C28.1 521.6 25.8 521.4 25.0 521.4 L20.0 521.4 L20.0 481.0 Z" fill="#fef3cd"/>
<path d="M185.5 527.0 C184.6 526.1 182.0 523.3 180.3 521.8 C178.7 520.3 176.9 519.3 175.6 517.9 C174.3 516.5 173.3 514.9 172.5 513.2 C171.7 511.5 171.0 509.4 171.0 507.7 C171.0 506.0 171.2 504.6 172.5 503.0 C173.8 501.4 175.7 500.0 178.8 498.3 C181.9 496.6 187.4 494.7 191.3 492.9 C195.2 491.1 198.4 489.2 202.3 487.4 C206.2 485.6 208.5 483.9 214.8 481.9 C221.1 479.9 235.8 476.6 240.0 475.5 L250.0 475.5 L250.0 530.0 L185.5 530.0 Z" fill="#fef3cd"/>
<path d="M214.5 527.0 C214.0 526.3 212.8 524.1 211.6 522.6 C210.3 521.1 208.2 519.7 207.0 517.9 C205.8 516.1 204.3 513.4 204.6 511.6 C204.8 509.8 207.1 508.8 208.5 507.0 C209.9 505.2 210.8 502.8 213.2 500.7 C215.5 498.6 218.1 496.5 222.6 494.4 C227.1 492.2 237.1 488.9 240.0 487.8 L250.0 487.8 L250.0 530.0 L214.5 530.0 Z" fill="#fff8e4"/>
<path d="M240.0 501.0 C239.3 501.8 236.8 504.3 236.0 506.0 C235.2 507.7 235.1 509.2 235.1 511.0 C235.1 512.8 235.2 515.2 236.0 517.0 C236.8 518.8 239.3 521.2 240.0 522.0 L245.0 522.0 L245.0 501.0 Z" fill="#fffcf3"/>
<path d="M37.5 384.0 C37.4 384.3 37.9 384.1 36.9 386.0 C35.9 387.9 32.7 393.6 31.5 395.7 C30.3 397.8 30.2 397.8 29.5 398.5 C28.8 399.2 27.4 399.8 27.0 400.0" fill="none" stroke="#b8962a" stroke-opacity="0.55" stroke-width="0.55"/>
<path d="M25.0 464.0 C25.8 464.2 27.7 464.7 29.5 465.5 C31.3 466.3 33.0 467.4 35.8 468.7 C38.6 470.0 41.6 471.2 46.5 473.4 C51.4 475.5 57.8 479.2 65.3 481.6 C72.8 484.0 82.7 486.5 91.8 487.8 C100.9 489.1 110.0 489.5 120.0 489.5 C129.9 489.5 142.2 489.1 151.5 487.8 C160.8 486.5 169.0 483.7 175.6 481.9 C182.2 480.1 185.6 478.6 191.3 477.2 C197.1 475.8 202.0 474.8 210.1 473.3 C218.2 471.8 235.0 469.1 240.0 468.3" fill="none" stroke="#b8962a" stroke-opacity="0.55" stroke-width="0.55"/>
<path d="M38.0 527.0 C40.0 526.2 45.2 523.5 50.0 522.5 C54.8 521.5 61.1 521.1 67.0 520.7 C72.9 520.3 78.2 520.1 85.4 520.0 C92.6 519.9 99.4 520.0 110.0 520.3 C120.6 520.6 139.1 521.2 149.0 521.8 C158.9 522.3 164.9 522.7 169.4 523.6 C173.9 524.5 174.9 526.4 176.0 527.0" fill="none" stroke="#b8962a" stroke-opacity="0.55" stroke-width="0.55"/>
<path d="M47.0 384.0 C46.8 384.3 47.2 384.3 46.0 386.0 C44.8 387.7 41.7 391.5 40.0 394.0 C38.3 396.5 37.8 399.1 36.0 401.2 C34.2 403.3 31.0 405.5 29.5 406.6 C28.0 407.7 27.4 407.8 27.0 408.0" fill="none" stroke="#b8962a" stroke-opacity="0.55" stroke-width="0.55"/>
<path d="M25.0 449.5 C25.8 449.6 27.7 449.4 29.5 450.3 C31.3 451.2 32.0 453.0 36.0 454.8 C40.0 456.6 45.0 458.9 53.3 461.2 C61.6 463.5 78.5 466.5 86.0 468.5 C93.5 470.5 91.2 471.8 98.5 473.0 C105.8 474.2 120.0 475.8 130.0 476.0 C139.9 476.2 148.2 475.4 158.2 474.0 C168.2 472.6 179.9 469.7 190.0 467.5 C200.1 465.3 210.5 462.9 218.8 460.8 C227.1 458.7 236.5 455.7 240.0 454.7" fill="none" stroke="#b8962a" stroke-opacity="0.55" stroke-width="0.55"/>
<path d="M240.0 392.4 C237.1 392.1 228.5 391.2 222.6 390.8 C216.7 390.4 211.1 390.2 204.6 390.0 C198.1 389.8 192.6 389.4 183.5 389.3 C174.4 389.2 163.9 388.9 150.0 389.5 C136.1 390.1 112.8 391.6 100.3 392.8 C87.8 394.0 81.7 395.1 75.0 396.5 C68.3 397.9 64.5 399.4 60.0 401.0 C55.5 402.6 51.6 404.2 47.8 406.3 C43.9 408.4 39.3 410.5 36.9 413.9 C34.5 417.3 33.3 422.7 33.3 426.6 C33.3 430.5 33.9 434.0 36.9 437.5 C39.9 441.0 45.3 444.8 51.1 447.5 C56.9 450.2 65.7 452.4 71.5 453.9 C77.3 455.4 79.5 455.2 86.0 456.6 C92.5 458.0 102.3 461.0 110.5 462.5 C118.7 464.0 125.2 465.6 135.0 465.4 C144.8 465.2 158.2 463.0 169.0 461.4 C179.8 459.8 190.3 457.8 200.0 455.5 C209.7 453.2 220.6 448.7 227.3 447.5 C234.0 446.3 237.9 448.3 240.0 448.5" fill="none" stroke="#b8962a" stroke-opacity="0.55" stroke-width="0.55"/>
<path d="M240.0 402.6 C237.1 402.1 229.4 400.4 222.6 399.4 C215.8 398.3 207.4 397.0 199.1 396.3 C190.8 395.6 183.2 395.3 172.5 395.2 C161.8 395.1 145.2 395.0 135.0 395.5 C124.8 396.0 120.5 397.0 111.1 398.1 C101.7 399.2 86.3 400.6 78.8 402.2 C71.3 403.8 69.2 405.5 66.0 408.0 C62.8 410.5 60.8 414.2 59.4 417.0 C58.0 419.8 57.5 422.3 57.8 424.8 C58.1 427.3 59.6 429.9 61.0 432.0 C62.4 434.1 63.0 435.8 66.0 437.5 C69.0 439.2 73.3 440.5 78.8 442.5 C84.3 444.5 89.6 447.5 99.0 449.3 C108.4 451.1 124.7 453.0 135.0 453.3 C145.3 453.6 151.7 452.6 160.9 451.4 C170.1 450.2 182.3 447.9 190.0 446.0 C197.7 444.1 201.3 441.6 207.0 440.0 C212.7 438.4 218.7 435.8 224.2 436.2 C229.7 436.6 237.4 441.4 240.0 442.5" fill="none" stroke="#b8962a" stroke-opacity="0.55" stroke-width="0.55"/>
<path d="M29.5 481.0 C31.4 482.1 37.1 485.4 41.1 487.8 C45.1 490.2 50.0 492.6 53.4 495.3 C56.8 498.0 61.6 501.3 61.6 504.2 C61.6 507.1 56.8 510.3 53.4 512.5 C50.0 514.7 44.4 516.0 41.1 517.3 C37.8 518.5 35.4 519.3 33.5 520.0 C31.6 520.7 30.2 521.2 29.5 521.4" fill="none" stroke="#b8962a" stroke-opacity="0.55" stroke-width="0.55"/>
<path d="M185.5 527.0 C184.6 526.1 182.0 523.3 180.3 521.8 C178.7 520.3 176.9 519.3 175.6 517.9 C174.3 516.5 173.3 514.9 172.5 513.2 C171.7 511.5 171.0 509.4 171.0 507.7 C171.0 506.0 171.2 504.6 172.5 503.0 C173.8 501.4 175.7 500.0 178.8 498.3 C181.9 496.6 187.4 494.7 191.3 492.9 C195.2 491.1 198.4 489.2 202.3 487.4 C206.2 485.6 208.5 483.9 214.8 481.9 C221.1 479.9 235.8 476.6 240.0 475.5" fill="none" stroke="#b8962a" stroke-opacity="0.55" stroke-width="0.55"/>
<path d="M214.5 527.0 C214.0 526.3 212.8 524.1 211.6 522.6 C210.3 521.1 208.2 519.7 207.0 517.9 C205.8 516.1 204.3 513.4 204.6 511.6 C204.8 509.8 207.1 508.8 208.5 507.0 C209.9 505.2 210.8 502.8 213.2 500.7 C215.5 498.6 218.1 496.5 222.6 494.4 C227.1 492.2 237.1 488.9 240.0 487.8" fill="none" stroke="#b8962a" stroke-opacity="0.55" stroke-width="0.55"/>
<path d="M240.0 501.0 C239.3 501.8 236.8 504.3 236.0 506.0 C235.2 507.7 235.1 509.2 235.1 511.0 C235.1 512.8 235.2 515.2 236.0 517.0 C236.8 518.8 239.3 521.2 240.0 522.0" fill="none" stroke="#b8962a" stroke-opacity="0.55" stroke-width="0.55"/>
<path d="M96.3 422.4 C96.3 419.4 99.8 415.2 102.0 413.0 C104.2 410.8 104.2 410.4 109.7 409.0 C115.2 407.6 126.6 405.7 135.0 404.9 C143.4 404.1 153.5 404.1 160.0 404.1 C166.5 404.1 168.9 404.3 174.1 404.7 C179.3 405.1 186.1 405.4 191.3 406.5 C196.5 407.6 201.9 409.2 205.4 411.2 C208.9 413.1 212.2 415.7 212.5 418.2 C212.8 420.7 209.5 424.2 207.0 426.0 C204.5 427.8 201.5 428.0 197.6 429.2 C193.7 430.4 189.8 431.7 183.5 433.1 C177.2 434.5 168.1 436.9 160.0 437.8 C151.9 438.8 142.5 438.9 135.0 438.8 C127.5 438.7 120.5 438.3 115.0 437.0 C109.5 435.7 105.1 433.4 102.0 431.0 C98.9 428.6 96.3 425.4 96.3 422.4 Z" fill="none" stroke="#b8962a" stroke-opacity="0.55" stroke-width="0.55"/>
</g>
<line x1="29.5" y1="386.0" x2="237.6" y2="386.0" stroke="#8a8a8a" stroke-width="0.6"/>
<line x1="29.5" y1="385.7" x2="29.5" y2="525.8" stroke="#666" stroke-width="0.6"/>
<line x1="29.1" y1="525.4" x2="237.9" y2="525.4" stroke="#666" stroke-width="0.75"/>
<line x1="29.5" y1="525.4" x2="29.5" y2="527.6" stroke="#555" stroke-width="0.5"/>
<line x1="29.5" y1="525.4" x2="27.3" y2="525.4" stroke="#555" stroke-width="0.5"/>
<text x="29.5" y="533.5" font-size="4.3" text-anchor="middle" fill="#1a1a1a" stroke="#1a1a1a" stroke-width="0.12" font-family="Liberation Sans, sans-serif">0</text>
<text x="25.0" y="527.0" font-size="4.3" text-anchor="end" fill="#1a1a1a" stroke="#1a1a1a" stroke-width="0.12" font-family="Liberation Sans, sans-serif">0</text>
<line x1="39.9" y1="525.4" x2="39.9" y2="526.7" stroke="#555" stroke-width="0.5"/>
<line x1="29.5" y1="518.4" x2="28.2" y2="518.4" stroke="#555" stroke-width="0.5"/>
<line x1="50.3" y1="525.4" x2="50.3" y2="527.6" stroke="#555" stroke-width="0.5"/>
<line x1="29.5" y1="511.5" x2="27.3" y2="511.5" stroke="#555" stroke-width="0.5"/>
<text x="50.3" y="533.5" font-size="4.3" text-anchor="middle" fill="#1a1a1a" stroke="#1a1a1a" stroke-width="0.12" font-family="Liberation Sans, sans-serif">2</text>
<text x="25.0" y="513.1" font-size="4.3" text-anchor="end" fill="#1a1a1a" stroke="#1a1a1a" stroke-width="0.12" font-family="Liberation Sans, sans-serif">2</text>
<line x1="60.7" y1="525.4" x2="60.7" y2="526.7" stroke="#555" stroke-width="0.5"/>
<line x1="29.5" y1="504.5" x2="28.2" y2="504.5" stroke="#555" stroke-width="0.5"/>
<line x1="71.1" y1="525.4" x2="71.1" y2="527.6" stroke="#555" stroke-width="0.5"/>
<line x1="29.5" y1="497.5" x2="27.3" y2="497.5" stroke="#555" stroke-width="0.5"/>
<text x="71.1" y="533.5" font-size="4.3" text-anchor="middle" fill="#1a1a1a" stroke="#1a1a1a" stroke-width="0.12" font-family="Liberation Sans, sans-serif">4</text>
<text x="25.0" y="499.1" font-size="4.3" text-anchor="end" fill="#1a1a1a" stroke="#1a1a1a" stroke-width="0.12" font-family="Liberation Sans, sans-serif">4</text>
<line x1="81.5" y1="525.4" x2="81.5" y2="526.7" stroke="#555" stroke-width="0.5"/>
<line x1="29.5" y1="490.5" x2="28.2" y2="490.5" stroke="#555" stroke-width="0.5"/>
<line x1="91.9" y1="525.4" x2="91.9" y2="527.6" stroke="#555" stroke-width="0.5"/>
<line x1="29.5" y1="483.6" x2="27.3" y2="483.6" stroke="#555" stroke-width="0.5"/>
<text x="91.9" y="533.5" font-size="4.3" text-anchor="middle" fill="#1a1a1a" stroke="#1a1a1a" stroke-width="0.12" font-family="Liberation Sans, sans-serif">6</text>
<text x="25.0" y="485.2" font-size="4.3" text-anchor="end" fill="#1a1a1a" stroke="#1a1a1a" stroke-width="0.12" font-family="Liberation Sans, sans-serif">6</text>
<line x1="102.3" y1="525.4" x2="102.3" y2="526.7" stroke="#555" stroke-width="0.5"/>
<line x1="29.5" y1="476.6" x2="28.2" y2="476.6" stroke="#555" stroke-width="0.5"/>
<line x1="112.7" y1="525.4" x2="112.7" y2="527.6" stroke="#555" stroke-width="0.5"/>
<line x1="29.5" y1="469.6" x2="27.3" y2="469.6" stroke="#555" stroke-width="0.5"/>
<text x="112.7" y="533.5" font-size="4.3" text-anchor="middle" fill="#1a1a1a" stroke="#1a1a1a" stroke-width="0.12" font-family="Liberation Sans, sans-serif">8</text>
<text x="25.0" y="471.2" font-size="4.3" text-anchor="end" fill="#1a1a1a" stroke="#1a1a1a" stroke-width="0.12" font-family="Liberation Sans, sans-serif">8</text>
<line x1="123.1" y1="525.4" x2="123.1" y2="526.7" stroke="#555" stroke-width="0.5"/>
<line x1="29.5" y1="462.7" x2="28.2" y2="462.7" stroke="#555" stroke-width="0.5"/>
<line x1="133.6" y1="525.4" x2="133.6" y2="527.6" stroke="#555" stroke-width="0.5"/>
<line x1="29.5" y1="455.7" x2="27.3" y2="455.7" stroke="#555" stroke-width="0.5"/>
<text x="133.6" y="533.5" font-size="4.3" text-anchor="middle" fill="#1a1a1a" stroke="#1a1a1a" stroke-width="0.12" font-family="Liberation Sans, sans-serif">10</text>
<text x="25.0" y="457.3" font-size="4.3" text-anchor="end" fill="#1a1a1a" stroke="#1a1a1a" stroke-width="0.12" font-family="Liberation Sans, sans-serif">10</text>
<line x1="144.0" y1="525.4" x2="144.0" y2="526.7" stroke="#555" stroke-width="0.5"/>
<line x1="29.5" y1="448.7" x2="28.2" y2="448.7" stroke="#555" stroke-width="0.5"/>
<line x1="154.4" y1="525.4" x2="154.4" y2="527.6" stroke="#555" stroke-width="0.5"/>
<line x1="29.5" y1="441.8" x2="27.3" y2="441.8" stroke="#555" stroke-width="0.5"/>
<text x="154.4" y="533.5" font-size="4.3" text-anchor="middle" fill="#1a1a1a" stroke="#1a1a1a" stroke-width="0.12" font-family="Liberation Sans, sans-serif">12</text>
<text x="25.0" y="443.4" font-size="4.3" text-anchor="end" fill="#1a1a1a" stroke="#1a1a1a" stroke-width="0.12" font-family="Liberation Sans, sans-serif">12</text>
<line x1="164.8" y1="525.4" x2="164.8" y2="526.7" stroke="#555" stroke-width="0.5"/>
<line x1="29.5" y1="434.8" x2="28.2" y2="434.8" stroke="#555" stroke-width="0.5"/>
<line x1="175.2" y1="525.4" x2="175.2" y2="527.6" stroke="#555" stroke-width="0.5"/>
<line x1="29.5" y1="427.8" x2="27.3" y2="427.8" stroke="#555" stroke-width="0.5"/>
<text x="175.2" y="533.5" font-size="4.3" text-anchor="middle" fill="#1a1a1a" stroke="#1a1a1a" stroke-width="0.12" font-family="Liberation Sans, sans-serif">14</text>
<text x="25.0" y="429.4" font-size="4.3" text-anchor="end" fill="#1a1a1a" stroke="#1a1a1a" stroke-width="0.12" font-family="Liberation Sans, sans-serif">14</text>
<line x1="185.6" y1="525.4" x2="185.6" y2="526.7" stroke="#555" stroke-width="0.5"/>
<line x1="29.5" y1="420.9" x2="28.2" y2="420.9" stroke="#555" stroke-width="0.5"/>
<line x1="196.0" y1="525.4" x2="196.0" y2="527.6" stroke="#555" stroke-width="0.5"/>
<line x1="29.5" y1="413.9" x2="27.3" y2="413.9" stroke="#555" stroke-width="0.5"/>
<text x="196.0" y="533.5" font-size="4.3" text-anchor="middle" fill="#1a1a1a" stroke="#1a1a1a" stroke-width="0.12" font-family="Liberation Sans, sans-serif">16</text>
<text x="25.0" y="415.5" font-size="4.3" text-anchor="end" fill="#1a1a1a" stroke="#1a1a1a" stroke-width="0.12" font-family="Liberation Sans, sans-serif">16</text>
<line x1="206.4" y1="525.4" x2="206.4" y2="526.7" stroke="#555" stroke-width="0.5"/>
<line x1="29.5" y1="406.9" x2="28.2" y2="406.9" stroke="#555" stroke-width="0.5"/>
<line x1="216.8" y1="525.4" x2="216.8" y2="527.6" stroke="#555" stroke-width="0.5"/>
<line x1="29.5" y1="399.9" x2="27.3" y2="399.9" stroke="#555" stroke-width="0.5"/>
<text x="216.8" y="533.5" font-size="4.3" text-anchor="middle" fill="#1a1a1a" stroke="#1a1a1a" stroke-width="0.12" font-family="Liberation Sans, sans-serif">18</text>
<text x="25.0" y="401.5" font-size="4.3" text-anchor="end" fill="#1a1a1a" stroke="#1a1a1a" stroke-width="0.12" font-family="Liberation Sans, sans-serif">18</text>
<line x1="227.2" y1="525.4" x2="227.2" y2="526.7" stroke="#555" stroke-width="0.5"/>
<line x1="29.5" y1="393.0" x2="28.2" y2="393.0" stroke="#555" stroke-width="0.5"/>
<line x1="237.6" y1="525.4" x2="237.6" y2="527.6" stroke="#555" stroke-width="0.5"/>
<line x1="29.5" y1="386.0" x2="27.3" y2="386.0" stroke="#555" stroke-width="0.5"/>
<text x="237.6" y="533.5" font-size="4.3" text-anchor="middle" fill="#1a1a1a" stroke="#1a1a1a" stroke-width="0.12" font-family="Liberation Sans, sans-serif">20</text>
<text x="25.0" y="387.6" font-size="4.3" text-anchor="end" fill="#1a1a1a" stroke="#1a1a1a" stroke-width="0.12" font-family="Liberation Sans, sans-serif">20</text>
<rect x="97.2" y="388.1" width="6.6" height="6.3" fill="#fff"/>
<text x="100.5" y="393.1" font-size="5" text-anchor="middle" fill="#111" font-family="Liberation Sans, sans-serif">45</text>
<rect x="200.7" y="386.6" width="6.6" height="6.3" fill="#fff"/>
<text x="204.0" y="391.6" font-size="5" text-anchor="middle" fill="#111" font-family="Liberation Sans, sans-serif">45</text>
<rect x="28.2" y="392.1" width="6.6" height="6.3" fill="#fff"/>
<text x="31.5" y="397.1" font-size="5" text-anchor="middle" fill="#111" font-family="Liberation Sans, sans-serif">35</text>
<rect x="108.7" y="395.1" width="6.6" height="6.3" fill="#fff"/>
<text x="112.0" y="400.1" font-size="5" text-anchor="middle" fill="#111" font-family="Liberation Sans, sans-serif">50</text>
<rect x="169.7" y="392.1" width="6.6" height="6.3" fill="#fff"/>
<text x="173.0" y="397.1" font-size="5" text-anchor="middle" fill="#111" font-family="Liberation Sans, sans-serif">50</text>
<rect x="32.2" y="398.1" width="6.6" height="6.3" fill="#fff"/>
<text x="35.5" y="403.1" font-size="5" text-anchor="middle" fill="#111" font-family="Liberation Sans, sans-serif">40</text>
<rect x="44.7" y="402.6" width="6.6" height="6.3" fill="#fff"/>
<text x="48.0" y="407.6" font-size="5" text-anchor="middle" fill="#111" font-family="Liberation Sans, sans-serif">45</text>
<rect x="105.7" y="407.6" width="6.6" height="6.3" fill="#fff"/>
<text x="109.0" y="412.6" font-size="5" text-anchor="middle" fill="#111" font-family="Liberation Sans, sans-serif">55</text>
<rect x="170.2" y="400.6" width="6.6" height="6.3" fill="#fff"/>
<text x="173.5" y="405.6" font-size="5" text-anchor="middle" fill="#111" font-family="Liberation Sans, sans-serif">55</text>
<rect x="56.2" y="413.1" width="6.6" height="6.3" fill="#fff"/>
<text x="59.5" y="418.1" font-size="5" text-anchor="middle" fill="#111" font-family="Liberation Sans, sans-serif">50</text>
<rect x="193.2" y="425.6" width="6.6" height="6.3" fill="#fff"/>
<text x="196.5" y="430.6" font-size="5" text-anchor="middle" fill="#111" font-family="Liberation Sans, sans-serif">55</text>
<rect x="121.7" y="434.1" width="6.6" height="6.3" fill="#fff"/>
<text x="125.0" y="439.1" font-size="5" text-anchor="middle" fill="#111" font-family="Liberation Sans, sans-serif">55</text>
<rect x="131.7" y="435.1" width="6.6" height="6.3" fill="#fff"/>
<text x="135.0" y="440.1" font-size="5" text-anchor="middle" fill="#111" font-family="Liberation Sans, sans-serif">55</text>
<rect x="220.7" y="432.6" width="6.6" height="6.3" fill="#fff"/>
<text x="224.0" y="437.6" font-size="5" text-anchor="middle" fill="#111" font-family="Liberation Sans, sans-serif">50</text>
<rect x="48.2" y="443.6" width="6.6" height="6.3" fill="#fff"/>
<text x="51.5" y="448.6" font-size="5" text-anchor="middle" fill="#111" font-family="Liberation Sans, sans-serif">45</text>
<rect x="95.7" y="445.1" width="6.6" height="6.3" fill="#fff"/>
<text x="99.0" y="450.1" font-size="5" text-anchor="middle" fill="#111" font-family="Liberation Sans, sans-serif">50</text>
<rect x="156.7" y="447.6" width="6.6" height="6.3" fill="#fff"/>
<text x="160.0" y="452.6" font-size="5" text-anchor="middle" fill="#111" font-family="Liberation Sans, sans-serif">50</text>
<rect x="225.2" y="443.6" width="6.6" height="6.3" fill="#fff"/>
<text x="228.5" y="448.6" font-size="5" text-anchor="middle" fill="#111" font-family="Liberation Sans, sans-serif">45</text>
<rect x="32.2" y="451.6" width="6.6" height="6.3" fill="#fff"/>
<text x="35.5" y="456.6" font-size="5" text-anchor="middle" fill="#111" font-family="Liberation Sans, sans-serif">40</text>
<rect x="107.2" y="459.1" width="6.6" height="6.3" fill="#fff"/>
<text x="110.5" y="464.1" font-size="5" text-anchor="middle" fill="#111" font-family="Liberation Sans, sans-serif">45</text>
<rect x="165.7" y="457.6" width="6.6" height="6.3" fill="#fff"/>
<text x="169.0" y="462.6" font-size="5" text-anchor="middle" fill="#111" font-family="Liberation Sans, sans-serif">45</text>
<rect x="214.7" y="456.6" width="6.6" height="6.3" fill="#fff"/>
<text x="218.0" y="461.6" font-size="5" text-anchor="middle" fill="#111" font-family="Liberation Sans, sans-serif">40</text>
<rect x="32.2" y="465.6" width="6.6" height="6.3" fill="#fff"/>
<text x="35.5" y="470.6" font-size="5" text-anchor="middle" fill="#111" font-family="Liberation Sans, sans-serif">35</text>
<rect x="95.2" y="469.6" width="6.6" height="6.3" fill="#fff"/>
<text x="98.5" y="474.6" font-size="5" text-anchor="middle" fill="#111" font-family="Liberation Sans, sans-serif">40</text>
<rect x="154.7" y="469.6" width="6.6" height="6.3" fill="#fff"/>
<text x="158.0" y="474.6" font-size="5" text-anchor="middle" fill="#111" font-family="Liberation Sans, sans-serif">40</text>
<rect x="207.2" y="468.6" width="6.6" height="6.3" fill="#fff"/>
<text x="210.5" y="473.6" font-size="5" text-anchor="middle" fill="#111" font-family="Liberation Sans, sans-serif">35</text>
<rect x="37.7" y="483.1" width="6.6" height="6.3" fill="#fff"/>
<text x="41.0" y="488.1" font-size="5" text-anchor="middle" fill="#111" font-family="Liberation Sans, sans-serif">30</text>
<rect x="89.7" y="483.6" width="6.6" height="6.3" fill="#fff"/>
<text x="93.0" y="488.6" font-size="5" text-anchor="middle" fill="#111" font-family="Liberation Sans, sans-serif">35</text>
<rect x="147.7" y="483.1" width="6.6" height="6.3" fill="#fff"/>
<text x="151.0" y="488.1" font-size="5" text-anchor="middle" fill="#111" font-family="Liberation Sans, sans-serif">35</text>
<rect x="198.2" y="483.1" width="6.6" height="6.3" fill="#fff"/>
<text x="201.5" y="488.1" font-size="5" text-anchor="middle" fill="#111" font-family="Liberation Sans, sans-serif">30</text>
<rect x="201.2" y="508.1" width="6.6" height="6.3" fill="#fff"/>
<text x="204.5" y="513.0" font-size="5" text-anchor="middle" fill="#111" font-family="Liberation Sans, sans-serif">25</text>
<rect x="29.7" y="515.6" width="6.6" height="6.3" fill="#fff"/>
<text x="33.0" y="520.5" font-size="5" text-anchor="middle" fill="#111" font-family="Liberation Sans, sans-serif">30</text>
<rect x="171.2" y="514.1" width="6.6" height="6.3" fill="#fff"/>
<text x="174.5" y="519.0" font-size="5" text-anchor="middle" fill="#111" font-family="Liberation Sans, sans-serif">30</text>
<text x="59.8" y="381.9" font-size="7.66" word-spacing="0.3" fill="#1a1a1a" stroke="#1a1a1a" stroke-width="0.08" font-family="Liberation Sans, sans-serif">Predicted MMP9 Contour Plot (Time = 12 h)</text>
<text x="2.6" y="381.6" font-size="12" fill="#111" font-family="Liberation Sans, sans-serif">(<tspan font-weight="bold">E</tspan>)</text>
<text x="108.0" y="543.8" font-size="7.9" fill="#1a1a1a" stroke="#1a1a1a" stroke-width="0.08" textLength="45.7" lengthAdjust="spacingAndGlyphs" font-family="Liberation Sans, sans-serif">IL-1β (ng/mL)</text>
<text x="0" y="0" font-size="8.1" fill="#1a1a1a" stroke="#1a1a1a" stroke-width="0.08" text-anchor="middle" transform="translate(13.8 455.7) rotate(-90)" font-family="Liberation Sans, sans-serif">TNFα (ng/mL)</text>
<g clip-path="url(#clipF)">
<rect x="292.5" y="390.5" width="209.3" height="134.0" fill="#fff2cd"/>
<path d="M285.0 395.3 C286.2 395.3 290.0 395.1 292.5 395.5 C295.0 395.9 295.2 397.2 299.8 397.8 C304.4 398.4 310.6 399.1 320.3 399.3 C330.0 399.5 345.1 399.0 358.0 398.9 C370.9 398.8 388.4 398.4 398.0 398.5 C407.6 398.6 407.0 399.2 415.5 399.3 C424.0 399.4 439.7 399.3 448.8 398.9 C457.9 398.5 465.3 397.9 470.3 396.8 C475.3 395.7 477.1 394.0 479.0 392.5 C480.9 391.0 481.1 388.8 481.5 388.0 L481.5 380.0 L285.0 380.0 Z" fill="#fff7e3"/>
<path d="M285.0 405.8 C286.2 405.8 286.6 405.5 292.5 405.8 C298.4 406.1 309.9 407.2 320.3 407.5 C330.7 407.8 341.8 407.7 354.7 407.5 C367.6 407.3 388.1 406.4 398.0 406.4 C407.9 406.4 405.9 407.3 414.4 407.5 C422.9 407.7 440.2 407.9 448.8 407.5 C457.4 407.1 461.9 405.9 466.0 405.4 C470.1 404.9 470.4 405.4 473.6 404.3 C476.8 403.2 481.3 400.9 485.4 398.9 C489.5 396.9 495.4 394.3 498.3 392.5 C501.2 390.7 502.2 388.8 503.0 388.0 L510.0 388.0 L510.0 530.0 L477.0 530.0 L477.0 528.0 C476.8 527.1 476.7 525.4 475.6 522.7 C474.5 520.0 472.1 515.0 470.3 512.0 C468.5 509.0 467.6 507.2 464.9 504.8 C462.2 502.4 456.9 500.1 454.2 497.7 C451.5 495.3 449.2 493.0 448.9 490.6 C448.6 488.2 450.6 485.8 452.5 483.5 C454.4 481.2 458.1 478.1 460.5 476.9 C462.9 475.7 464.2 477.0 466.7 476.3 C469.2 475.6 472.9 474.6 475.6 472.8 C478.3 471.0 481.2 468.6 482.7 465.6 C484.2 462.6 484.8 458.3 484.5 455.0 C484.2 451.7 483.1 448.4 481.0 446.0 C478.9 443.6 475.9 442.1 472.0 440.7 C468.1 439.3 463.1 438.3 457.4 437.6 C451.7 436.9 447.9 436.9 438.0 436.5 C428.1 436.1 408.6 435.9 398.0 435.5 C387.4 435.1 383.3 434.7 374.1 434.4 C364.9 434.1 353.7 433.3 342.9 433.7 C332.1 434.1 317.9 435.5 309.5 436.5 C301.1 437.5 296.6 439.1 292.5 439.8 C288.4 440.6 286.2 440.8 285.0 441.0 Z" fill="#feebaa"/>
<path d="M285.0 448.0 C286.2 448.0 288.9 448.2 292.5 448.0 C296.1 447.8 299.9 447.5 306.3 446.9 C312.7 446.3 321.5 444.9 331.0 444.5 C340.5 444.1 352.1 444.3 363.3 444.5 C374.5 444.7 387.7 445.3 398.0 445.8 C408.3 446.3 416.6 446.5 425.1 447.3 C433.6 448.1 443.6 449.1 448.8 450.5 C454.0 451.9 455.1 454.5 456.5 456.0 C457.9 457.5 457.6 458.0 457.4 459.5 C457.2 461.0 458.4 462.7 455.3 464.9 C452.2 467.1 445.6 469.6 439.1 472.5 C432.6 475.4 423.9 479.1 416.5 482.1 C409.1 485.2 399.3 488.8 395.0 490.8 C390.7 492.8 390.5 493.2 390.5 494.0 C390.5 494.8 392.4 495.1 395.0 495.5 C397.6 495.9 400.4 495.3 405.8 496.5 C411.2 497.7 420.0 500.2 427.3 502.6 C434.6 505.1 444.5 508.9 449.9 511.2 C455.3 513.5 456.9 514.6 459.6 516.6 C462.3 518.6 464.7 521.1 466.0 523.0 C467.3 524.9 467.2 527.2 467.5 528.0 L467.5 530.0 L378.8 530.0 L378.8 528.0 C378.7 527.2 379.9 524.4 378.4 523.0 C376.9 521.6 373.2 521.1 369.8 519.8 C366.4 518.5 360.4 516.8 358.0 515.2 C355.6 513.6 355.9 512.3 355.1 510.4 C354.4 508.5 354.0 506.1 353.5 504.0 C353.0 501.9 353.5 499.5 351.9 497.6 C350.3 495.7 347.2 494.3 343.9 492.8 C340.6 491.3 336.0 490.3 332.0 488.8 C328.0 487.3 324.7 486.3 320.0 484.0 C315.3 481.7 308.5 477.7 304.0 475.2 C299.5 472.7 296.0 470.3 292.8 468.8 C289.6 467.3 286.3 466.5 285.0 466.0 Z" fill="#fff7e3"/>
<path d="M503.0 404.3 C502.6 404.3 503.4 403.1 500.5 404.3 C497.6 405.6 489.1 409.3 485.4 411.8 C481.7 414.3 478.5 416.4 478.5 419.3 C478.5 422.2 483.5 426.3 485.4 429.0 C487.3 431.7 487.8 433.6 489.7 435.5 C491.6 437.4 494.8 438.9 497.0 440.7 C499.2 442.4 502.0 445.1 503.0 446.0 L510.0 446.0 L510.0 404.3 Z" fill="#fde487"/>
<path d="M503.0 458.0 C501.4 459.9 496.8 465.8 493.4 469.2 C490.0 472.6 485.7 475.1 482.7 478.1 C479.7 481.1 477.1 484.0 475.6 487.0 C474.1 490.0 473.2 492.9 473.8 495.9 C474.4 498.9 477.1 502.4 479.2 504.8 C481.3 507.2 484.6 508.7 486.3 510.2 C488.0 511.7 488.3 511.9 489.5 514.0 C490.7 516.1 492.6 520.4 493.4 522.7 C494.1 525.0 493.9 527.1 494.0 528.0 L510.0 528.0 L510.0 458.0 Z" fill="#fde487"/>
<path d="M503.0 475.0 C501.4 476.4 495.4 480.6 493.4 483.5 C491.4 486.4 491.1 489.4 490.8 492.4 C490.5 495.4 490.6 498.6 491.6 501.3 C492.6 504.0 495.1 506.6 497.0 508.4 C498.9 510.2 502.0 511.4 503.0 512.0 L510.0 512.0 L510.0 475.0 Z" fill="#fdde64"/>
<path d="M285.0 481.0 C286.2 481.1 289.9 480.4 292.5 481.6 C295.1 482.8 297.6 485.9 300.8 488.0 C304.1 490.1 308.8 492.0 312.0 494.4 C315.2 496.8 317.3 499.7 320.0 502.4 C322.7 505.1 325.3 508.0 328.0 510.4 C330.7 512.8 333.6 514.9 336.0 516.8 C338.4 518.7 340.7 519.7 342.3 521.6 C343.9 523.5 345.0 526.9 345.5 528.0 L285.0 528.0 Z" fill="#feebaa"/>
<path d="M285.0 494.0 C286.2 494.1 290.4 493.3 292.5 494.4 C294.6 495.5 295.2 498.4 297.6 500.8 C300.1 503.2 304.0 506.4 307.2 508.8 C310.4 511.2 313.9 513.3 316.8 515.2 C319.7 517.1 322.7 517.9 324.8 520.0 C326.9 522.1 328.8 526.7 329.6 528.0 L285.0 528.0 Z" fill="#fde487"/>
<path d="M285.0 507.0 C286.2 507.0 290.7 506.1 292.5 507.2 C294.3 508.3 294.6 511.7 296.0 513.6 C297.4 515.5 298.9 516.8 300.8 518.4 C302.7 520.0 305.8 521.6 307.2 523.2 C308.6 524.8 308.7 527.2 309.0 528.0 L285.0 528.0 Z" fill="#fdde64"/>
<path d="M285.0 516.0 C286.2 516.1 290.7 515.8 292.5 516.5 C294.3 517.2 294.9 519.2 296.0 520.5 C297.1 521.8 298.3 522.8 299.0 524.0 C299.7 525.2 299.8 527.3 300.0 528.0 L285.0 528.0 Z" fill="#fcd74a"/>
<path d="M322.4 462.8 C322.4 461.7 322.1 461.1 323.5 460.3 C324.9 459.5 326.1 458.3 331.0 457.8 C335.9 457.3 347.2 456.9 352.6 457.2 C358.0 457.4 359.7 458.6 363.3 459.3 C366.9 460.0 371.9 460.6 374.1 461.5 C376.3 462.4 377.0 463.6 376.3 464.7 C375.6 465.8 373.8 467.1 369.8 468.1 C365.9 469.1 359.1 470.4 352.6 470.9 C346.1 471.4 335.9 471.5 331.0 470.9 C326.1 470.3 324.9 468.5 323.5 467.1 C322.1 465.8 322.4 463.9 322.4 462.8 Z" fill="#ffffff"/>
<path d="M285.0 395.3 C286.2 395.3 290.0 395.1 292.5 395.5 C295.0 395.9 295.2 397.2 299.8 397.8 C304.4 398.4 310.6 399.1 320.3 399.3 C330.0 399.5 345.1 399.0 358.0 398.9 C370.9 398.8 388.4 398.4 398.0 398.5 C407.6 398.6 407.0 399.2 415.5 399.3 C424.0 399.4 439.7 399.3 448.8 398.9 C457.9 398.5 465.3 397.9 470.3 396.8 C475.3 395.7 477.1 394.0 479.0 392.5 C480.9 391.0 481.1 388.8 481.5 388.0" fill="none" stroke="#b8962a" stroke-opacity="0.55" stroke-width="0.55"/>
<path d="M285.0 448.0 C286.2 448.0 288.9 448.2 292.5 448.0 C296.1 447.8 299.9 447.5 306.3 446.9 C312.7 446.3 321.5 444.9 331.0 444.5 C340.5 444.1 352.1 444.3 363.3 444.5 C374.5 444.7 387.7 445.3 398.0 445.8 C408.3 446.3 416.6 446.5 425.1 447.3 C433.6 448.1 443.6 449.1 448.8 450.5 C454.0 451.9 455.1 454.5 456.5 456.0 C457.9 457.5 457.6 458.0 457.4 459.5 C457.2 461.0 458.4 462.7 455.3 464.9 C452.2 467.1 445.6 469.6 439.1 472.5 C432.6 475.4 423.9 479.1 416.5 482.1 C409.1 485.2 399.3 488.8 395.0 490.8 C390.7 492.8 390.5 493.2 390.5 494.0 C390.5 494.8 392.4 495.1 395.0 495.5 C397.6 495.9 400.4 495.3 405.8 496.5 C411.2 497.7 420.0 500.2 427.3 502.6 C434.6 505.1 444.5 508.9 449.9 511.2 C455.3 513.5 456.9 514.6 459.6 516.6 C462.3 518.6 464.7 521.1 466.0 523.0 C467.3 524.9 467.2 527.2 467.5 528.0" fill="none" stroke="#b8962a" stroke-opacity="0.55" stroke-width="0.55"/>
<path d="M378.8 528.0 C378.7 527.2 379.9 524.4 378.4 523.0 C376.9 521.6 373.2 521.1 369.8 519.8 C366.4 518.5 360.4 516.8 358.0 515.2 C355.6 513.6 355.9 512.3 355.1 510.4 C354.4 508.5 354.0 506.1 353.5 504.0 C353.0 501.9 353.5 499.5 351.9 497.6 C350.3 495.7 347.2 494.3 343.9 492.8 C340.6 491.3 336.0 490.3 332.0 488.8 C328.0 487.3 324.7 486.3 320.0 484.0 C315.3 481.7 308.5 477.7 304.0 475.2 C299.5 472.7 296.0 470.3 292.8 468.8 C289.6 467.3 286.3 466.5 285.0 466.0" fill="none" stroke="#b8962a" stroke-opacity="0.55" stroke-width="0.55"/>
<path d="M285.0 405.8 C286.2 405.8 286.6 405.5 292.5 405.8 C298.4 406.1 309.9 407.2 320.3 407.5 C330.7 407.8 341.8 407.7 354.7 407.5 C367.6 407.3 388.1 406.4 398.0 406.4 C407.9 406.4 405.9 407.3 414.4 407.5 C422.9 407.7 440.2 407.9 448.8 407.5 C457.4 407.1 461.9 405.9 466.0 405.4 C470.1 404.9 470.4 405.4 473.6 404.3 C476.8 403.2 481.3 400.9 485.4 398.9 C489.5 396.9 495.4 394.3 498.3 392.5 C501.2 390.7 502.2 388.8 503.0 388.0" fill="none" stroke="#b8962a" stroke-opacity="0.55" stroke-width="0.55"/>
<path d="M477.0 528.0 C476.8 527.1 476.7 525.4 475.6 522.7 C474.5 520.0 472.1 515.0 470.3 512.0 C468.5 509.0 467.6 507.2 464.9 504.8 C462.2 502.4 456.9 500.1 454.2 497.7 C451.5 495.3 449.2 493.0 448.9 490.6 C448.6 488.2 450.6 485.8 452.5 483.5 C454.4 481.2 458.1 478.1 460.5 476.9 C462.9 475.7 464.2 477.0 466.7 476.3 C469.2 475.6 472.9 474.6 475.6 472.8 C478.3 471.0 481.2 468.6 482.7 465.6 C484.2 462.6 484.8 458.3 484.5 455.0 C484.2 451.7 483.1 448.4 481.0 446.0 C478.9 443.6 475.9 442.1 472.0 440.7 C468.1 439.3 463.1 438.3 457.4 437.6 C451.7 436.9 447.9 436.9 438.0 436.5 C428.1 436.1 408.6 435.9 398.0 435.5 C387.4 435.1 383.3 434.7 374.1 434.4 C364.9 434.1 353.7 433.3 342.9 433.7 C332.1 434.1 317.9 435.5 309.5 436.5 C301.1 437.5 296.6 439.1 292.5 439.8 C288.4 440.6 286.2 440.8 285.0 441.0" fill="none" stroke="#b8962a" stroke-opacity="0.55" stroke-width="0.55"/>
<path d="M503.0 404.3 C502.6 404.3 503.4 403.1 500.5 404.3 C497.6 405.6 489.1 409.3 485.4 411.8 C481.7 414.3 478.5 416.4 478.5 419.3 C478.5 422.2 483.5 426.3 485.4 429.0 C487.3 431.7 487.8 433.6 489.7 435.5 C491.6 437.4 494.8 438.9 497.0 440.7 C499.2 442.4 502.0 445.1 503.0 446.0" fill="none" stroke="#b8962a" stroke-opacity="0.55" stroke-width="0.55"/>
<path d="M503.0 458.0 C501.4 459.9 496.8 465.8 493.4 469.2 C490.0 472.6 485.7 475.1 482.7 478.1 C479.7 481.1 477.1 484.0 475.6 487.0 C474.1 490.0 473.2 492.9 473.8 495.9 C474.4 498.9 477.1 502.4 479.2 504.8 C481.3 507.2 484.6 508.7 486.3 510.2 C488.0 511.7 488.3 511.9 489.5 514.0 C490.7 516.1 492.6 520.4 493.4 522.7 C494.1 525.0 493.9 527.1 494.0 528.0" fill="none" stroke="#b8962a" stroke-opacity="0.55" stroke-width="0.55"/>
<path d="M503.0 475.0 C501.4 476.4 495.4 480.6 493.4 483.5 C491.4 486.4 491.1 489.4 490.8 492.4 C490.5 495.4 490.6 498.6 491.6 501.3 C492.6 504.0 495.1 506.6 497.0 508.4 C498.9 510.2 502.0 511.4 503.0 512.0" fill="none" stroke="#b8962a" stroke-opacity="0.55" stroke-width="0.55"/>
<path d="M285.0 481.0 C286.2 481.1 289.9 480.4 292.5 481.6 C295.1 482.8 297.6 485.9 300.8 488.0 C304.1 490.1 308.8 492.0 312.0 494.4 C315.2 496.8 317.3 499.7 320.0 502.4 C322.7 505.1 325.3 508.0 328.0 510.4 C330.7 512.8 333.6 514.9 336.0 516.8 C338.4 518.7 340.7 519.7 342.3 521.6 C343.9 523.5 345.0 526.9 345.5 528.0" fill="none" stroke="#b8962a" stroke-opacity="0.55" stroke-width="0.55"/>
<path d="M285.0 494.0 C286.2 494.1 290.4 493.3 292.5 494.4 C294.6 495.5 295.2 498.4 297.6 500.8 C300.1 503.2 304.0 506.4 307.2 508.8 C310.4 511.2 313.9 513.3 316.8 515.2 C319.7 517.1 322.7 517.9 324.8 520.0 C326.9 522.1 328.8 526.7 329.6 528.0" fill="none" stroke="#b8962a" stroke-opacity="0.55" stroke-width="0.55"/>
<path d="M285.0 507.0 C286.2 507.0 290.7 506.1 292.5 507.2 C294.3 508.3 294.6 511.7 296.0 513.6 C297.4 515.5 298.9 516.8 300.8 518.4 C302.7 520.0 305.8 521.6 307.2 523.2 C308.6 524.8 308.7 527.2 309.0 528.0" fill="none" stroke="#b8962a" stroke-opacity="0.55" stroke-width="0.55"/>
<path d="M285.0 516.0 C286.2 516.1 290.7 515.8 292.5 516.5 C294.3 517.2 294.9 519.2 296.0 520.5 C297.1 521.8 298.3 522.8 299.0 524.0 C299.7 525.2 299.8 527.3 300.0 528.0" fill="none" stroke="#b8962a" stroke-opacity="0.55" stroke-width="0.55"/>
<path d="M322.4 462.8 C322.4 461.7 322.1 461.1 323.5 460.3 C324.9 459.5 326.1 458.3 331.0 457.8 C335.9 457.3 347.2 456.9 352.6 457.2 C358.0 457.4 359.7 458.6 363.3 459.3 C366.9 460.0 371.9 460.6 374.1 461.5 C376.3 462.4 377.0 463.6 376.3 464.7 C375.6 465.8 373.8 467.1 369.8 468.1 C365.9 469.1 359.1 470.4 352.6 470.9 C346.1 471.4 335.9 471.5 331.0 470.9 C326.1 470.3 324.9 468.5 323.5 467.1 C322.1 465.8 322.4 463.9 322.4 462.8 Z" fill="none" stroke="#b8962a" stroke-opacity="0.55" stroke-width="0.55"/>
</g>
<line x1="292.5" y1="390.5" x2="501.8" y2="390.5" stroke="#8a8a8a" stroke-width="0.6"/>
<line x1="292.5" y1="390.2" x2="292.5" y2="524.9" stroke="#666" stroke-width="0.6"/>
<line x1="292.1" y1="524.5" x2="502.1" y2="524.5" stroke="#666" stroke-width="0.75"/>
<line x1="292.5" y1="524.5" x2="292.5" y2="526.7" stroke="#555" stroke-width="0.5"/>
<line x1="292.5" y1="524.5" x2="290.3" y2="524.5" stroke="#555" stroke-width="0.5"/>
<text x="292.5" y="532.6" font-size="4.3" text-anchor="middle" fill="#1a1a1a" stroke="#1a1a1a" stroke-width="0.12" font-family="Liberation Sans, sans-serif">0</text>
<text x="288.0" y="526.1" font-size="4.3" text-anchor="end" fill="#1a1a1a" stroke="#1a1a1a" stroke-width="0.12" font-family="Liberation Sans, sans-serif">0</text>
<line x1="303.0" y1="524.5" x2="303.0" y2="525.8" stroke="#555" stroke-width="0.5"/>
<line x1="292.5" y1="517.8" x2="291.2" y2="517.8" stroke="#555" stroke-width="0.5"/>
<line x1="313.4" y1="524.5" x2="313.4" y2="526.7" stroke="#555" stroke-width="0.5"/>
<line x1="292.5" y1="511.1" x2="290.3" y2="511.1" stroke="#555" stroke-width="0.5"/>
<text x="313.4" y="532.6" font-size="4.3" text-anchor="middle" fill="#1a1a1a" stroke="#1a1a1a" stroke-width="0.12" font-family="Liberation Sans, sans-serif">2</text>
<text x="288.0" y="512.7" font-size="4.3" text-anchor="end" fill="#1a1a1a" stroke="#1a1a1a" stroke-width="0.12" font-family="Liberation Sans, sans-serif">2</text>
<line x1="323.9" y1="524.5" x2="323.9" y2="525.8" stroke="#555" stroke-width="0.5"/>
<line x1="292.5" y1="504.4" x2="291.2" y2="504.4" stroke="#555" stroke-width="0.5"/>
<line x1="334.4" y1="524.5" x2="334.4" y2="526.7" stroke="#555" stroke-width="0.5"/>
<line x1="292.5" y1="497.7" x2="290.3" y2="497.7" stroke="#555" stroke-width="0.5"/>
<text x="334.4" y="532.6" font-size="4.3" text-anchor="middle" fill="#1a1a1a" stroke="#1a1a1a" stroke-width="0.12" font-family="Liberation Sans, sans-serif">4</text>
<text x="288.0" y="499.3" font-size="4.3" text-anchor="end" fill="#1a1a1a" stroke="#1a1a1a" stroke-width="0.12" font-family="Liberation Sans, sans-serif">4</text>
<line x1="344.8" y1="524.5" x2="344.8" y2="525.8" stroke="#555" stroke-width="0.5"/>
<line x1="292.5" y1="491.0" x2="291.2" y2="491.0" stroke="#555" stroke-width="0.5"/>
<line x1="355.3" y1="524.5" x2="355.3" y2="526.7" stroke="#555" stroke-width="0.5"/>
<line x1="292.5" y1="484.3" x2="290.3" y2="484.3" stroke="#555" stroke-width="0.5"/>
<text x="355.3" y="532.6" font-size="4.3" text-anchor="middle" fill="#1a1a1a" stroke="#1a1a1a" stroke-width="0.12" font-family="Liberation Sans, sans-serif">6</text>
<text x="288.0" y="485.9" font-size="4.3" text-anchor="end" fill="#1a1a1a" stroke="#1a1a1a" stroke-width="0.12" font-family="Liberation Sans, sans-serif">6</text>
<line x1="365.8" y1="524.5" x2="365.8" y2="525.8" stroke="#555" stroke-width="0.5"/>
<line x1="292.5" y1="477.6" x2="291.2" y2="477.6" stroke="#555" stroke-width="0.5"/>
<line x1="376.2" y1="524.5" x2="376.2" y2="526.7" stroke="#555" stroke-width="0.5"/>
<line x1="292.5" y1="470.9" x2="290.3" y2="470.9" stroke="#555" stroke-width="0.5"/>
<text x="376.2" y="532.6" font-size="4.3" text-anchor="middle" fill="#1a1a1a" stroke="#1a1a1a" stroke-width="0.12" font-family="Liberation Sans, sans-serif">8</text>
<text x="288.0" y="472.5" font-size="4.3" text-anchor="end" fill="#1a1a1a" stroke="#1a1a1a" stroke-width="0.12" font-family="Liberation Sans, sans-serif">8</text>
<line x1="386.7" y1="524.5" x2="386.7" y2="525.8" stroke="#555" stroke-width="0.5"/>
<line x1="292.5" y1="464.2" x2="291.2" y2="464.2" stroke="#555" stroke-width="0.5"/>
<line x1="397.1" y1="524.5" x2="397.1" y2="526.7" stroke="#555" stroke-width="0.5"/>
<line x1="292.5" y1="457.5" x2="290.3" y2="457.5" stroke="#555" stroke-width="0.5"/>
<text x="397.1" y="532.6" font-size="4.3" text-anchor="middle" fill="#1a1a1a" stroke="#1a1a1a" stroke-width="0.12" font-family="Liberation Sans, sans-serif">10</text>
<text x="288.0" y="459.1" font-size="4.3" text-anchor="end" fill="#1a1a1a" stroke="#1a1a1a" stroke-width="0.12" font-family="Liberation Sans, sans-serif">10</text>
<line x1="407.6" y1="524.5" x2="407.6" y2="525.8" stroke="#555" stroke-width="0.5"/>
<line x1="292.5" y1="450.8" x2="291.2" y2="450.8" stroke="#555" stroke-width="0.5"/>
<line x1="418.1" y1="524.5" x2="418.1" y2="526.7" stroke="#555" stroke-width="0.5"/>
<line x1="292.5" y1="444.1" x2="290.3" y2="444.1" stroke="#555" stroke-width="0.5"/>
<text x="418.1" y="532.6" font-size="4.3" text-anchor="middle" fill="#1a1a1a" stroke="#1a1a1a" stroke-width="0.12" font-family="Liberation Sans, sans-serif">12</text>
<text x="288.0" y="445.7" font-size="4.3" text-anchor="end" fill="#1a1a1a" stroke="#1a1a1a" stroke-width="0.12" font-family="Liberation Sans, sans-serif">12</text>
<line x1="428.5" y1="524.5" x2="428.5" y2="525.8" stroke="#555" stroke-width="0.5"/>
<line x1="292.5" y1="437.4" x2="291.2" y2="437.4" stroke="#555" stroke-width="0.5"/>
<line x1="439.0" y1="524.5" x2="439.0" y2="526.7" stroke="#555" stroke-width="0.5"/>
<line x1="292.5" y1="430.7" x2="290.3" y2="430.7" stroke="#555" stroke-width="0.5"/>
<text x="439.0" y="532.6" font-size="4.3" text-anchor="middle" fill="#1a1a1a" stroke="#1a1a1a" stroke-width="0.12" font-family="Liberation Sans, sans-serif">14</text>
<text x="288.0" y="432.3" font-size="4.3" text-anchor="end" fill="#1a1a1a" stroke="#1a1a1a" stroke-width="0.12" font-family="Liberation Sans, sans-serif">14</text>
<line x1="449.5" y1="524.5" x2="449.5" y2="525.8" stroke="#555" stroke-width="0.5"/>
<line x1="292.5" y1="424.0" x2="291.2" y2="424.0" stroke="#555" stroke-width="0.5"/>
<line x1="459.9" y1="524.5" x2="459.9" y2="526.7" stroke="#555" stroke-width="0.5"/>
<line x1="292.5" y1="417.3" x2="290.3" y2="417.3" stroke="#555" stroke-width="0.5"/>
<text x="459.9" y="532.6" font-size="4.3" text-anchor="middle" fill="#1a1a1a" stroke="#1a1a1a" stroke-width="0.12" font-family="Liberation Sans, sans-serif">16</text>
<text x="288.0" y="418.9" font-size="4.3" text-anchor="end" fill="#1a1a1a" stroke="#1a1a1a" stroke-width="0.12" font-family="Liberation Sans, sans-serif">16</text>
<line x1="470.4" y1="524.5" x2="470.4" y2="525.8" stroke="#555" stroke-width="0.5"/>
<line x1="292.5" y1="410.6" x2="291.2" y2="410.6" stroke="#555" stroke-width="0.5"/>
<line x1="480.9" y1="524.5" x2="480.9" y2="526.7" stroke="#555" stroke-width="0.5"/>
<line x1="292.5" y1="403.9" x2="290.3" y2="403.9" stroke="#555" stroke-width="0.5"/>
<text x="480.9" y="532.6" font-size="4.3" text-anchor="middle" fill="#1a1a1a" stroke="#1a1a1a" stroke-width="0.12" font-family="Liberation Sans, sans-serif">18</text>
<text x="288.0" y="405.5" font-size="4.3" text-anchor="end" fill="#1a1a1a" stroke="#1a1a1a" stroke-width="0.12" font-family="Liberation Sans, sans-serif">18</text>
<line x1="491.3" y1="524.5" x2="491.3" y2="525.8" stroke="#555" stroke-width="0.5"/>
<line x1="292.5" y1="397.2" x2="291.2" y2="397.2" stroke="#555" stroke-width="0.5"/>
<line x1="501.8" y1="524.5" x2="501.8" y2="526.7" stroke="#555" stroke-width="0.5"/>
<line x1="292.5" y1="390.5" x2="290.3" y2="390.5" stroke="#555" stroke-width="0.5"/>
<text x="501.8" y="532.6" font-size="4.3" text-anchor="middle" fill="#1a1a1a" stroke="#1a1a1a" stroke-width="0.12" font-family="Liberation Sans, sans-serif">20</text>
<text x="288.0" y="392.1" font-size="4.3" text-anchor="end" fill="#1a1a1a" stroke="#1a1a1a" stroke-width="0.12" font-family="Liberation Sans, sans-serif">20</text>
<rect x="298.1" y="395.1" width="3.8" height="6.3" fill="#fff"/>
<text x="300.0" y="400.1" font-size="5" text-anchor="middle" fill="#111" font-family="Liberation Sans, sans-serif">4</text>
<rect x="355.6" y="395.6" width="3.8" height="6.3" fill="#fff"/>
<text x="357.5" y="400.6" font-size="5" text-anchor="middle" fill="#111" font-family="Liberation Sans, sans-serif">4</text>
<rect x="414.1" y="395.6" width="3.8" height="6.3" fill="#fff"/>
<text x="416.0" y="400.6" font-size="5" text-anchor="middle" fill="#111" font-family="Liberation Sans, sans-serif">4</text>
<rect x="289.5" y="403.1" width="7.9" height="6.3" fill="#fff"/>
<text x="293.5" y="408.1" font-size="5" text-anchor="middle" fill="#111" font-family="Liberation Sans, sans-serif">4.5</text>
<rect x="352.0" y="404.6" width="7.9" height="6.3" fill="#fff"/>
<text x="356.0" y="409.6" font-size="5" text-anchor="middle" fill="#111" font-family="Liberation Sans, sans-serif">4.5</text>
<rect x="411.0" y="404.6" width="7.9" height="6.3" fill="#fff"/>
<text x="415.0" y="409.6" font-size="5" text-anchor="middle" fill="#111" font-family="Liberation Sans, sans-serif">4.5</text>
<rect x="470.5" y="400.6" width="7.9" height="6.3" fill="#fff"/>
<text x="474.5" y="405.6" font-size="5" text-anchor="middle" fill="#111" font-family="Liberation Sans, sans-serif">4.5</text>
<rect x="339.5" y="429.6" width="7.9" height="6.3" fill="#fff"/>
<text x="343.5" y="434.6" font-size="5" text-anchor="middle" fill="#111" font-family="Liberation Sans, sans-serif">4.5</text>
<rect x="398.0" y="431.1" width="7.9" height="6.3" fill="#fff"/>
<text x="402.0" y="436.1" font-size="5" text-anchor="middle" fill="#111" font-family="Liberation Sans, sans-serif">4.5</text>
<rect x="454.0" y="434.6" width="7.9" height="6.3" fill="#fff"/>
<text x="458.0" y="439.6" font-size="5" text-anchor="middle" fill="#111" font-family="Liberation Sans, sans-serif">4.5</text>
<rect x="487.6" y="432.1" width="3.8" height="6.3" fill="#fff"/>
<text x="489.5" y="437.1" font-size="5" text-anchor="middle" fill="#111" font-family="Liberation Sans, sans-serif">5</text>
<rect x="304.1" y="443.1" width="3.8" height="6.3" fill="#fff"/>
<text x="306.0" y="448.1" font-size="5" text-anchor="middle" fill="#111" font-family="Liberation Sans, sans-serif">4</text>
<rect x="362.6" y="441.1" width="3.8" height="6.3" fill="#fff"/>
<text x="364.5" y="446.1" font-size="5" text-anchor="middle" fill="#111" font-family="Liberation Sans, sans-serif">4</text>
<rect x="423.1" y="444.1" width="3.8" height="6.3" fill="#fff"/>
<text x="425.0" y="449.1" font-size="5" text-anchor="middle" fill="#111" font-family="Liberation Sans, sans-serif">4</text>
<rect x="359.5" y="456.1" width="7.9" height="6.3" fill="#fff"/>
<text x="363.5" y="461.1" font-size="5" text-anchor="middle" fill="#111" font-family="Liberation Sans, sans-serif">3.5</text>
<rect x="328.5" y="468.1" width="7.9" height="6.3" fill="#fff"/>
<text x="332.5" y="473.1" font-size="5" text-anchor="middle" fill="#111" font-family="Liberation Sans, sans-serif">3.5</text>
<rect x="437.6" y="468.6" width="3.8" height="6.3" fill="#fff"/>
<text x="439.5" y="473.6" font-size="5" text-anchor="middle" fill="#111" font-family="Liberation Sans, sans-serif">4</text>
<rect x="458.5" y="472.6" width="7.9" height="6.3" fill="#fff"/>
<text x="462.5" y="477.6" font-size="5" text-anchor="middle" fill="#111" font-family="Liberation Sans, sans-serif">4.5</text>
<rect x="489.1" y="466.1" width="3.8" height="6.3" fill="#fff"/>
<text x="491.0" y="471.1" font-size="5" text-anchor="middle" fill="#111" font-family="Liberation Sans, sans-serif">5</text>
<rect x="329.6" y="485.6" width="3.8" height="6.3" fill="#fff"/>
<text x="331.5" y="490.6" font-size="5" text-anchor="middle" fill="#111" font-family="Liberation Sans, sans-serif">4</text>
<rect x="392.1" y="492.6" width="3.8" height="6.3" fill="#fff"/>
<text x="394.0" y="497.6" font-size="5" text-anchor="middle" fill="#111" font-family="Liberation Sans, sans-serif">4</text>
<rect x="483.5" y="496.6" width="7.9" height="6.3" fill="#fff"/>
<text x="487.5" y="501.6" font-size="5" text-anchor="middle" fill="#111" font-family="Liberation Sans, sans-serif">5.5</text>
<rect x="467.0" y="508.6" width="7.9" height="6.3" fill="#fff"/>
<text x="471.0" y="513.5" font-size="5" text-anchor="middle" fill="#111" font-family="Liberation Sans, sans-serif">4.5</text>
<rect x="487.1" y="510.1" width="3.8" height="6.3" fill="#fff"/>
<text x="489.0" y="515.0" font-size="5" text-anchor="middle" fill="#111" font-family="Liberation Sans, sans-serif">5</text>
<rect x="449.1" y="508.1" width="3.8" height="6.3" fill="#fff"/>
<text x="451.0" y="513.0" font-size="5" text-anchor="middle" fill="#111" font-family="Liberation Sans, sans-serif">4</text>
<rect x="297.5" y="515.1" width="7.9" height="6.3" fill="#fff"/>
<text x="301.5" y="520.0" font-size="5" text-anchor="middle" fill="#111" font-family="Liberation Sans, sans-serif">5.5</text>
<rect x="324.1" y="517.1" width="3.8" height="6.3" fill="#fff"/>
<text x="326.0" y="522.0" font-size="5" text-anchor="middle" fill="#111" font-family="Liberation Sans, sans-serif">5</text>
<rect x="333.5" y="516.1" width="7.9" height="6.3" fill="#fff"/>
<text x="337.5" y="521.0" font-size="5" text-anchor="middle" fill="#111" font-family="Liberation Sans, sans-serif">4.5</text>
<rect x="367.6" y="517.1" width="3.8" height="6.3" fill="#fff"/>
<text x="369.5" y="522.0" font-size="5" text-anchor="middle" fill="#111" font-family="Liberation Sans, sans-serif">4</text>
<rect x="404.5" y="513.1" width="7.9" height="6.3" fill="#fff"/>
<text x="408.5" y="518.0" font-size="5" text-anchor="middle" fill="#111" font-family="Liberation Sans, sans-serif">3.5</text>
<text x="313.3" y="381.9" font-size="7.66" word-spacing="0.3" fill="#1a1a1a" stroke="#1a1a1a" stroke-width="0.08" font-family="Liberation Sans, sans-serif">Standard Error MMP9 Contour Plot (Time = 12 h)</text>
<text x="265.8" y="380.9" font-size="12" fill="#111" font-family="Liberation Sans, sans-serif">(F)</text>
<text x="370.5" y="543.4" font-size="7.9" fill="#1a1a1a" stroke="#1a1a1a" stroke-width="0.08" textLength="47.0" lengthAdjust="spacingAndGlyphs" font-family="Liberation Sans, sans-serif">IL-1β (ng/mL)</text>
<text x="0" y="0" font-size="8.1" fill="#1a1a1a" stroke="#1a1a1a" stroke-width="0.08" text-anchor="middle" transform="translate(277.4 456.9) rotate(-90)" font-family="Liberation Sans, sans-serif">TNFα (ng/mL)</text>
</svg>
</body></html>
